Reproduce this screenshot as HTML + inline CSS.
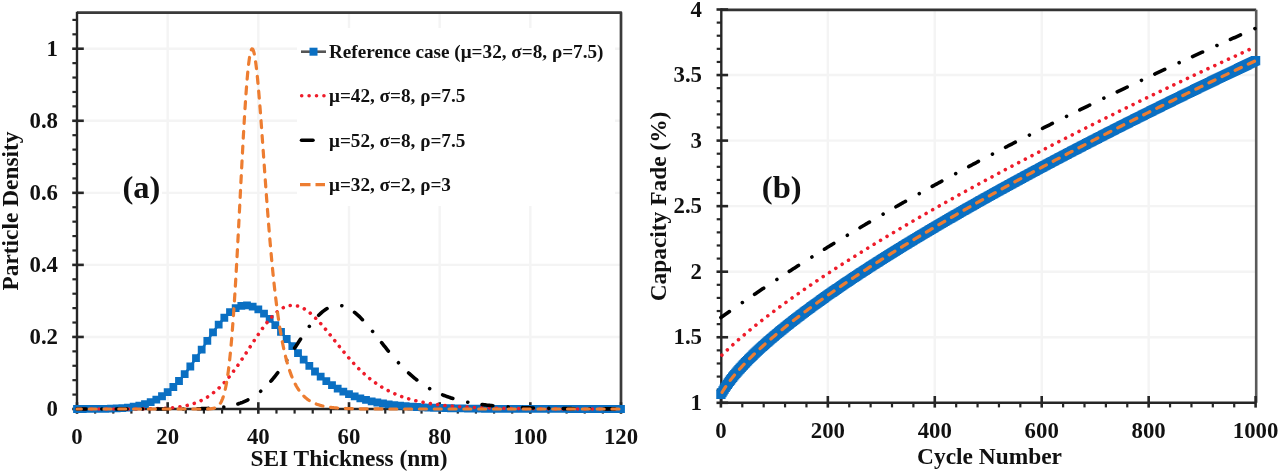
<!DOCTYPE html>
<html><head><meta charset="utf-8"><style>
html,body{margin:0;padding:0;background:#fff;}
body{width:1280px;height:472px;overflow:hidden;}
svg{display:block;filter:blur(0.45px);}
text{fill:#111;}
</style></head><body>
<svg width="1280" height="472" viewBox="0 0 1280 472">
<line x1="77.0" y1="336.95" x2="621.0" y2="336.95" stroke="#f4f4f4" stroke-width="2.4"/>
<line x1="77.0" y1="264.89" x2="621.0" y2="264.89" stroke="#f4f4f4" stroke-width="2.4"/>
<line x1="77.0" y1="192.84" x2="621.0" y2="192.84" stroke="#f4f4f4" stroke-width="2.4"/>
<line x1="77.0" y1="120.78" x2="621.0" y2="120.78" stroke="#f4f4f4" stroke-width="2.4"/>
<line x1="77.0" y1="48.73" x2="621.0" y2="48.73" stroke="#f4f4f4" stroke-width="2.4"/>
<line x1="167.67" y1="12.7" x2="167.67" y2="409.0" stroke="#f4f4f4" stroke-width="2.4"/>
<line x1="258.33" y1="12.7" x2="258.33" y2="409.0" stroke="#f4f4f4" stroke-width="2.4"/>
<line x1="349.0" y1="12.7" x2="349.0" y2="409.0" stroke="#f4f4f4" stroke-width="2.4"/>
<line x1="439.67" y1="12.7" x2="439.67" y2="409.0" stroke="#f4f4f4" stroke-width="2.4"/>
<line x1="530.33" y1="12.7" x2="530.33" y2="409.0" stroke="#f4f4f4" stroke-width="2.4"/>
<rect x="297" y="28" width="318" height="178" fill="#fff"/>
<rect x="120" y="168" width="42" height="40" fill="#fff"/>
<path d="M77.0 12.7H621.0V409.0" fill="none" stroke="#3a3a3a" stroke-width="2.7" stroke-linejoin="round"/>
<line x1="77.0" y1="11.7" x2="77.0" y2="410.0" stroke="#262626" stroke-width="2.4"/>
<line x1="76.0" y1="409.0" x2="621.0" y2="409.0" stroke="#262626" stroke-width="2.4"/>
<line x1="72.2" y1="409.0" x2="83.8" y2="409.0" stroke="#262626" stroke-width="2.6"/>
<line x1="72.4" y1="394.59" x2="77.0" y2="394.59" stroke="#262626" stroke-width="2.2"/>
<line x1="72.4" y1="380.18" x2="77.0" y2="380.18" stroke="#262626" stroke-width="2.2"/>
<line x1="72.4" y1="365.77" x2="77.0" y2="365.77" stroke="#262626" stroke-width="2.2"/>
<line x1="72.4" y1="351.36" x2="77.0" y2="351.36" stroke="#262626" stroke-width="2.2"/>
<line x1="72.2" y1="336.95" x2="83.8" y2="336.95" stroke="#262626" stroke-width="2.6"/>
<line x1="72.4" y1="322.53" x2="77.0" y2="322.53" stroke="#262626" stroke-width="2.2"/>
<line x1="72.4" y1="308.12" x2="77.0" y2="308.12" stroke="#262626" stroke-width="2.2"/>
<line x1="72.4" y1="293.71" x2="77.0" y2="293.71" stroke="#262626" stroke-width="2.2"/>
<line x1="72.4" y1="279.3" x2="77.0" y2="279.3" stroke="#262626" stroke-width="2.2"/>
<line x1="72.2" y1="264.89" x2="83.8" y2="264.89" stroke="#262626" stroke-width="2.6"/>
<line x1="72.4" y1="250.48" x2="77.0" y2="250.48" stroke="#262626" stroke-width="2.2"/>
<line x1="72.4" y1="236.07" x2="77.0" y2="236.07" stroke="#262626" stroke-width="2.2"/>
<line x1="72.4" y1="221.66" x2="77.0" y2="221.66" stroke="#262626" stroke-width="2.2"/>
<line x1="72.4" y1="207.25" x2="77.0" y2="207.25" stroke="#262626" stroke-width="2.2"/>
<line x1="72.2" y1="192.84" x2="83.8" y2="192.84" stroke="#262626" stroke-width="2.6"/>
<line x1="72.4" y1="178.43" x2="77.0" y2="178.43" stroke="#262626" stroke-width="2.2"/>
<line x1="72.4" y1="164.01" x2="77.0" y2="164.01" stroke="#262626" stroke-width="2.2"/>
<line x1="72.4" y1="149.6" x2="77.0" y2="149.6" stroke="#262626" stroke-width="2.2"/>
<line x1="72.4" y1="135.19" x2="77.0" y2="135.19" stroke="#262626" stroke-width="2.2"/>
<line x1="72.2" y1="120.78" x2="83.8" y2="120.78" stroke="#262626" stroke-width="2.6"/>
<line x1="72.4" y1="106.37" x2="77.0" y2="106.37" stroke="#262626" stroke-width="2.2"/>
<line x1="72.4" y1="91.96" x2="77.0" y2="91.96" stroke="#262626" stroke-width="2.2"/>
<line x1="72.4" y1="77.55" x2="77.0" y2="77.55" stroke="#262626" stroke-width="2.2"/>
<line x1="72.4" y1="63.14" x2="77.0" y2="63.14" stroke="#262626" stroke-width="2.2"/>
<line x1="72.2" y1="48.73" x2="83.8" y2="48.73" stroke="#262626" stroke-width="2.6"/>
<line x1="72.4" y1="34.32" x2="77.0" y2="34.32" stroke="#262626" stroke-width="2.2"/>
<line x1="72.4" y1="19.91" x2="77.0" y2="19.91" stroke="#262626" stroke-width="2.2"/>
<line x1="77.0" y1="402.2" x2="77.0" y2="413.8" stroke="#262626" stroke-width="2.6"/>
<line x1="95.13" y1="409.0" x2="95.13" y2="413.6" stroke="#262626" stroke-width="2.2"/>
<line x1="113.27" y1="409.0" x2="113.27" y2="413.6" stroke="#262626" stroke-width="2.2"/>
<line x1="131.4" y1="409.0" x2="131.4" y2="413.6" stroke="#262626" stroke-width="2.2"/>
<line x1="149.53" y1="409.0" x2="149.53" y2="413.6" stroke="#262626" stroke-width="2.2"/>
<line x1="167.67" y1="402.2" x2="167.67" y2="413.8" stroke="#262626" stroke-width="2.6"/>
<line x1="185.8" y1="409.0" x2="185.8" y2="413.6" stroke="#262626" stroke-width="2.2"/>
<line x1="203.93" y1="409.0" x2="203.93" y2="413.6" stroke="#262626" stroke-width="2.2"/>
<line x1="222.07" y1="409.0" x2="222.07" y2="413.6" stroke="#262626" stroke-width="2.2"/>
<line x1="240.2" y1="409.0" x2="240.2" y2="413.6" stroke="#262626" stroke-width="2.2"/>
<line x1="258.33" y1="402.2" x2="258.33" y2="413.8" stroke="#262626" stroke-width="2.6"/>
<line x1="276.47" y1="409.0" x2="276.47" y2="413.6" stroke="#262626" stroke-width="2.2"/>
<line x1="294.6" y1="409.0" x2="294.6" y2="413.6" stroke="#262626" stroke-width="2.2"/>
<line x1="312.73" y1="409.0" x2="312.73" y2="413.6" stroke="#262626" stroke-width="2.2"/>
<line x1="330.87" y1="409.0" x2="330.87" y2="413.6" stroke="#262626" stroke-width="2.2"/>
<line x1="349.0" y1="402.2" x2="349.0" y2="413.8" stroke="#262626" stroke-width="2.6"/>
<line x1="367.13" y1="409.0" x2="367.13" y2="413.6" stroke="#262626" stroke-width="2.2"/>
<line x1="385.27" y1="409.0" x2="385.27" y2="413.6" stroke="#262626" stroke-width="2.2"/>
<line x1="403.4" y1="409.0" x2="403.4" y2="413.6" stroke="#262626" stroke-width="2.2"/>
<line x1="421.53" y1="409.0" x2="421.53" y2="413.6" stroke="#262626" stroke-width="2.2"/>
<line x1="439.67" y1="402.2" x2="439.67" y2="413.8" stroke="#262626" stroke-width="2.6"/>
<line x1="457.8" y1="409.0" x2="457.8" y2="413.6" stroke="#262626" stroke-width="2.2"/>
<line x1="475.93" y1="409.0" x2="475.93" y2="413.6" stroke="#262626" stroke-width="2.2"/>
<line x1="494.07" y1="409.0" x2="494.07" y2="413.6" stroke="#262626" stroke-width="2.2"/>
<line x1="512.2" y1="409.0" x2="512.2" y2="413.6" stroke="#262626" stroke-width="2.2"/>
<line x1="530.33" y1="402.2" x2="530.33" y2="413.8" stroke="#262626" stroke-width="2.6"/>
<line x1="548.47" y1="409.0" x2="548.47" y2="413.6" stroke="#262626" stroke-width="2.2"/>
<line x1="566.6" y1="409.0" x2="566.6" y2="413.6" stroke="#262626" stroke-width="2.2"/>
<line x1="584.73" y1="409.0" x2="584.73" y2="413.6" stroke="#262626" stroke-width="2.2"/>
<line x1="602.87" y1="409.0" x2="602.87" y2="413.6" stroke="#262626" stroke-width="2.2"/>
<line x1="621.0" y1="402.2" x2="621.0" y2="413.8" stroke="#262626" stroke-width="2.6"/>
<text x="58" y="416.0" text-anchor="end" font-family="Liberation Serif" font-weight="bold" font-size="22.8">0</text>
<text x="58" y="343.95" text-anchor="end" font-family="Liberation Serif" font-weight="bold" font-size="22.8">0.2</text>
<text x="58" y="271.89" text-anchor="end" font-family="Liberation Serif" font-weight="bold" font-size="22.8">0.4</text>
<text x="58" y="199.84" text-anchor="end" font-family="Liberation Serif" font-weight="bold" font-size="22.8">0.6</text>
<text x="58" y="127.78" text-anchor="end" font-family="Liberation Serif" font-weight="bold" font-size="22.8">0.8</text>
<text x="58" y="55.73" text-anchor="end" font-family="Liberation Serif" font-weight="bold" font-size="22.8">1</text>
<text x="77.0" y="443.5" text-anchor="middle" font-family="Liberation Serif" font-weight="bold" font-size="22.8">0</text>
<text x="167.67" y="443.5" text-anchor="middle" font-family="Liberation Serif" font-weight="bold" font-size="22.8">20</text>
<text x="258.33" y="443.5" text-anchor="middle" font-family="Liberation Serif" font-weight="bold" font-size="22.8">40</text>
<text x="349.0" y="443.5" text-anchor="middle" font-family="Liberation Serif" font-weight="bold" font-size="22.8">60</text>
<text x="439.67" y="443.5" text-anchor="middle" font-family="Liberation Serif" font-weight="bold" font-size="22.8">80</text>
<text x="530.33" y="443.5" text-anchor="middle" font-family="Liberation Serif" font-weight="bold" font-size="22.8">100</text>
<text x="621.0" y="443.5" text-anchor="middle" font-family="Liberation Serif" font-weight="bold" font-size="22.8">120</text>
<text x="349" y="465.7" text-anchor="middle" font-family="Liberation Serif" font-weight="bold" font-size="23.4">SEI Thickness (nm)</text>
<text transform="translate(17.8,211) rotate(-90)" x="0" y="0" text-anchor="middle" font-family="Liberation Serif" font-weight="bold" font-size="23.4">Particle Density</text>
<text x="141.5" y="198.4" text-anchor="middle" font-family="Liberation Serif" font-weight="bold" font-size="32.5">(a)</text>
<polyline points="77.0,408.99 82.67,408.98 88.33,408.96 94.0,408.92 99.67,408.87 105.33,408.78 111.0,408.63 116.67,408.4 122.33,408.05 128.0,407.53 133.67,406.77 139.33,405.7 145.0,404.21 150.67,402.22 156.33,399.59 162.0,396.24 167.67,392.06 173.33,386.99 179.0,381.0 184.67,374.13 190.33,366.48 196.0,358.21 201.67,349.57 207.33,340.86 213.0,332.41 218.67,324.59 224.33,317.75 230.0,312.2 235.67,308.19 241.33,305.88 247.0,305.34 252.67,306.53 258.33,309.33 264.0,313.54 269.67,318.9 275.33,325.12 281.0,331.91 286.67,338.99 292.33,346.11 298.0,353.06 303.67,359.68 309.33,365.85 315.0,371.5 320.67,376.6 326.33,381.13 332.0,385.12 337.67,388.61 343.33,391.62 349.0,394.22 354.67,396.45 360.33,398.35 366.0,399.97 371.67,401.35 377.33,402.52 383.0,403.51 388.67,404.35 394.33,405.06 400.0,405.67 405.67,406.18 411.33,406.61 417.0,406.98 422.67,407.29 428.33,407.55 434.0,407.77 439.67,407.96 445.33,408.12 451.0,408.25 456.67,408.37 462.33,408.47 468.0,408.55 473.67,408.62 479.33,408.68 485.0,408.73 490.67,408.77 496.33,408.8 502.0,408.83 507.67,408.86 513.33,408.88 519.0,408.9 524.67,408.91 530.33,408.93 536.0,408.94 541.67,408.95 547.33,408.96 553.0,408.96 558.67,408.97 564.33,408.97 570.0,408.98 575.67,408.98 581.33,408.98 587.0,408.99 592.67,408.99 598.33,408.99 604.0,408.99 609.67,408.99 615.33,408.99 621.0,408.99" fill="none" stroke="#0a6fc2" stroke-width="2.5"/>
<path d="M73.1 405.09h7.8v7.8h-7.8zM78.77 405.08h7.8v7.8h-7.8zM84.43 405.06h7.8v7.8h-7.8zM90.1 405.02h7.8v7.8h-7.8zM95.77 404.97h7.8v7.8h-7.8zM101.43 404.88h7.8v7.8h-7.8zM107.1 404.73h7.8v7.8h-7.8zM112.77 404.5h7.8v7.8h-7.8zM118.43 404.15h7.8v7.8h-7.8zM124.1 403.63h7.8v7.8h-7.8zM129.77 402.87h7.8v7.8h-7.8zM135.43 401.8h7.8v7.8h-7.8zM141.1 400.31h7.8v7.8h-7.8zM146.77 398.32h7.8v7.8h-7.8zM152.43 395.69h7.8v7.8h-7.8zM158.1 392.34h7.8v7.8h-7.8zM163.77 388.16h7.8v7.8h-7.8zM169.43 383.09h7.8v7.8h-7.8zM175.1 377.1h7.8v7.8h-7.8zM180.77 370.23h7.8v7.8h-7.8zM186.43 362.58h7.8v7.8h-7.8zM192.1 354.31h7.8v7.8h-7.8zM197.77 345.67h7.8v7.8h-7.8zM203.43 336.96h7.8v7.8h-7.8zM209.1 328.51h7.8v7.8h-7.8zM214.77 320.69h7.8v7.8h-7.8zM220.43 313.85h7.8v7.8h-7.8zM226.1 308.3h7.8v7.8h-7.8zM231.77 304.29h7.8v7.8h-7.8zM237.43 301.98h7.8v7.8h-7.8zM243.1 301.44h7.8v7.8h-7.8zM248.77 302.63h7.8v7.8h-7.8zM254.43 305.43h7.8v7.8h-7.8zM260.1 309.64h7.8v7.8h-7.8zM265.77 315.0h7.8v7.8h-7.8zM271.43 321.22h7.8v7.8h-7.8zM277.1 328.01h7.8v7.8h-7.8zM282.77 335.09h7.8v7.8h-7.8zM288.43 342.21h7.8v7.8h-7.8zM294.1 349.16h7.8v7.8h-7.8zM299.77 355.78h7.8v7.8h-7.8zM305.43 361.95h7.8v7.8h-7.8zM311.1 367.6h7.8v7.8h-7.8zM316.77 372.7h7.8v7.8h-7.8zM322.43 377.23h7.8v7.8h-7.8zM328.1 381.22h7.8v7.8h-7.8zM333.77 384.71h7.8v7.8h-7.8zM339.43 387.72h7.8v7.8h-7.8zM345.1 390.32h7.8v7.8h-7.8zM350.77 392.55h7.8v7.8h-7.8zM356.43 394.45h7.8v7.8h-7.8zM362.1 396.07h7.8v7.8h-7.8zM367.77 397.45h7.8v7.8h-7.8zM373.43 398.62h7.8v7.8h-7.8zM379.1 399.61h7.8v7.8h-7.8zM384.77 400.45h7.8v7.8h-7.8zM390.43 401.16h7.8v7.8h-7.8zM396.1 401.77h7.8v7.8h-7.8zM401.77 402.28h7.8v7.8h-7.8zM407.43 402.71h7.8v7.8h-7.8zM413.1 403.08h7.8v7.8h-7.8zM418.77 403.39h7.8v7.8h-7.8zM424.43 403.65h7.8v7.8h-7.8zM430.1 403.87h7.8v7.8h-7.8zM435.77 404.06h7.8v7.8h-7.8zM441.43 404.22h7.8v7.8h-7.8zM447.1 404.35h7.8v7.8h-7.8zM452.77 404.47h7.8v7.8h-7.8zM458.43 404.57h7.8v7.8h-7.8zM464.1 404.65h7.8v7.8h-7.8zM469.77 404.72h7.8v7.8h-7.8zM475.43 404.78h7.8v7.8h-7.8zM481.1 404.83h7.8v7.8h-7.8zM486.77 404.87h7.8v7.8h-7.8zM492.43 404.9h7.8v7.8h-7.8zM498.1 404.93h7.8v7.8h-7.8zM503.77 404.96h7.8v7.8h-7.8zM509.43 404.98h7.8v7.8h-7.8zM515.1 405.0h7.8v7.8h-7.8zM520.77 405.01h7.8v7.8h-7.8zM526.43 405.03h7.8v7.8h-7.8zM532.1 405.04h7.8v7.8h-7.8zM537.77 405.05h7.8v7.8h-7.8zM543.43 405.06h7.8v7.8h-7.8zM549.1 405.06h7.8v7.8h-7.8zM554.77 405.07h7.8v7.8h-7.8zM560.43 405.07h7.8v7.8h-7.8zM566.1 405.08h7.8v7.8h-7.8zM571.77 405.08h7.8v7.8h-7.8zM577.43 405.08h7.8v7.8h-7.8zM583.1 405.09h7.8v7.8h-7.8zM588.77 405.09h7.8v7.8h-7.8zM594.43 405.09h7.8v7.8h-7.8zM600.1 405.09h7.8v7.8h-7.8zM605.77 405.09h7.8v7.8h-7.8zM611.43 405.09h7.8v7.8h-7.8zM617.1 405.09h7.8v7.8h-7.8z" fill="#0a6fc2"/>
<polyline points="77.0,409.0 78.13,409.0 79.27,409.0 80.4,409.0 81.53,409.0 82.67,409.0 83.8,409.0 84.93,409.0 86.07,409.0 87.2,409.0 88.33,409.0 89.47,409.0 90.6,409.0 91.73,409.0 92.87,409.0 94.0,409.0 95.13,409.0 96.27,409.0 97.4,409.0 98.53,409.0 99.67,409.0 100.8,409.0 101.93,409.0 103.07,409.0 104.2,409.0 105.33,409.0 106.47,409.0 107.6,409.0 108.73,409.0 109.87,409.0 111.0,409.0 112.13,409.0 113.27,409.0 114.4,409.0 115.53,408.99 116.67,408.99 117.8,408.99 118.93,408.99 120.07,408.99 121.2,408.99 122.33,408.99 123.47,408.99 124.6,408.99 125.73,408.98 126.87,408.98 128.0,408.98 129.13,408.98 130.27,408.97 131.4,408.97 132.53,408.97 133.67,408.96 134.8,408.96 135.93,408.95 137.07,408.95 138.2,408.94 139.33,408.93 140.47,408.93 141.6,408.92 142.73,408.91 143.87,408.9 145.0,408.88 146.13,408.87 147.27,408.86 148.4,408.84 149.53,408.82 150.67,408.8 151.8,408.78 152.93,408.76 154.07,408.73 155.2,408.7 156.33,408.67 157.47,408.64 158.6,408.6 159.73,408.56 160.87,408.51 162.0,408.46 163.13,408.41 164.27,408.35 165.4,408.29 166.53,408.22 167.67,408.15 168.8,408.07 169.93,407.98 171.07,407.88 172.2,407.78 173.33,407.67 174.47,407.55 175.6,407.42 176.73,407.29 177.87,407.14 179.0,406.98 180.13,406.81 181.27,406.62 182.4,406.42 183.53,406.21 184.67,405.99 185.8,405.75 186.93,405.49 188.07,405.22 189.2,404.92 190.33,404.61 191.47,404.28 192.6,403.93 193.73,403.56 194.87,403.17 196.0,402.75 197.13,402.31 198.27,401.84 199.4,401.35 200.53,400.83 201.67,400.29 202.8,399.71 203.93,399.11 205.07,398.48 206.2,397.81 207.33,397.12 208.47,396.39 209.6,395.63 210.73,394.83 211.87,394.0 213.0,393.14 214.13,392.24 215.27,391.31 216.4,390.34 217.53,389.33 218.67,388.29 219.8,387.21 220.93,386.09 222.07,384.94 223.2,383.75 224.33,382.52 225.47,381.26 226.6,379.96 227.73,378.62 228.87,377.26 230.0,375.85 231.13,374.42 232.27,372.95 233.4,371.46 234.53,369.93 235.67,368.38 236.8,366.8 237.93,365.19 239.07,363.56 240.2,361.91 241.33,360.24 242.47,358.55 243.6,356.85 244.73,355.13 245.87,353.4 247.0,351.66 248.13,349.92 249.27,348.17 250.4,346.43 251.53,344.68 252.67,342.94 253.8,341.2 254.93,339.48 256.07,337.77 257.2,336.07 258.33,334.39 259.47,332.74 260.6,331.11 261.73,329.5 262.87,327.93 264.0,326.39 265.13,324.89 266.27,323.42 267.4,322.0 268.53,320.62 269.67,319.28 270.8,318.0 271.93,316.77 273.07,315.59 274.2,314.46 275.33,313.4 276.47,312.39 277.6,311.45 278.73,310.57 279.87,309.75 281.0,309.0 282.13,308.32 283.27,307.7 284.4,307.16 285.53,306.68 286.67,306.27 287.8,305.94 288.93,305.67 290.07,305.48 291.2,305.36 292.33,305.31 293.47,305.33 294.6,305.41 295.73,305.57 296.87,305.8 298.0,306.09 299.13,306.45 300.27,306.87 301.4,307.36 302.53,307.91 303.67,308.52 304.8,309.19 305.93,309.92 307.07,310.7 308.2,311.53 309.33,312.41 310.47,313.35 311.6,314.33 312.73,315.35 313.87,316.42 315.0,317.52 316.13,318.66 317.27,319.84 318.4,321.05 319.53,322.29 320.67,323.56 321.8,324.86 322.93,326.18 324.07,327.51 325.2,328.87 326.33,330.24 327.47,331.63 328.6,333.03 329.73,334.44 330.87,335.86 332.0,337.28 333.13,338.71 334.27,340.14 335.4,341.56 336.53,342.99 337.67,344.41 338.8,345.83 339.93,347.24 341.07,348.64 342.2,350.04 343.33,351.42 344.47,352.79 345.6,354.15 346.73,355.49 347.87,356.82 349.0,358.13 350.13,359.42 351.27,360.7 352.4,361.96 353.53,363.2 354.67,364.42 355.8,365.61 356.93,366.79 358.07,367.95 359.2,369.08 360.33,370.19 361.47,371.29 362.6,372.35 363.73,373.4 364.87,374.42 366.0,375.42 367.13,376.4 368.27,377.36 369.4,378.29 370.53,379.2 371.67,380.09 372.8,380.96 373.93,381.8 375.07,382.63 376.2,383.43 377.33,384.21 378.47,384.97 379.6,385.71 380.73,386.43 381.87,387.13 383.0,387.81 384.13,388.48 385.27,389.12 386.4,389.74 387.53,390.35 388.67,390.94 389.8,391.51 390.93,392.07 392.07,392.6 393.2,393.13 394.33,393.63 395.47,394.12 396.6,394.6 397.73,395.06 398.87,395.51 400.0,395.94 401.13,396.37 402.27,396.77 403.4,397.17 404.53,397.55 405.67,397.92 406.8,398.28 407.93,398.63 409.07,398.96 410.2,399.29 411.33,399.6 412.47,399.91 413.6,400.21 414.73,400.49 415.87,400.77 417.0,401.04 418.13,401.3 419.27,401.55 420.4,401.79 421.53,402.03 422.67,402.25 423.8,402.47 424.93,402.69 426.07,402.89 427.2,403.09 428.33,403.29 429.47,403.47 430.6,403.65 431.73,403.83 432.87,404.0 434.0,404.16 435.13,404.32 436.27,404.47 437.4,404.62 438.53,404.76 439.67,404.9 440.8,405.04 441.93,405.17 443.07,405.29 444.2,405.41 445.33,405.53 446.47,405.64 447.6,405.75 448.73,405.86 449.87,405.96 451.0,406.06 452.13,406.16 453.27,406.25 454.4,406.34 455.53,406.43 456.67,406.51 457.8,406.59 458.93,406.67 460.07,406.75 461.2,406.82 462.33,406.89 463.47,406.96 464.6,407.03 465.73,407.09 466.87,407.16 468.0,407.22 469.13,407.27 470.27,407.33 471.4,407.39 472.53,407.44 473.67,407.49 474.8,407.54 475.93,407.59 477.07,407.63 478.2,407.68 479.33,407.72 480.47,407.76 481.6,407.8 482.73,407.84 483.87,407.88 485.0,407.92 486.13,407.95 487.27,407.99 488.4,408.02 489.53,408.05 490.67,408.08 491.8,408.11 492.93,408.14 494.07,408.17 495.2,408.2 496.33,408.22 497.47,408.25 498.6,408.27 499.73,408.3 500.87,408.32 502.0,408.34 503.13,408.36 504.27,408.39 505.4,408.41 506.53,408.42 507.67,408.44 508.8,408.46 509.93,408.48 511.07,408.5 512.2,408.51 513.33,408.53 514.47,408.54 515.6,408.56 516.73,408.57 517.87,408.59 519.0,408.6 520.13,408.61 521.27,408.63 522.4,408.64 523.53,408.65 524.67,408.66 525.8,408.67 526.93,408.68 528.07,408.69 529.2,408.7 530.33,408.71 531.47,408.72 532.6,408.73 533.73,408.74 534.87,408.75 536.0,408.76 537.13,408.77 538.27,408.77 539.4,408.78 540.53,408.79 541.67,408.8 542.8,408.8 543.93,408.81 545.07,408.81 546.2,408.82 547.33,408.83 548.47,408.83 549.6,408.84 550.73,408.84 551.87,408.85 553.0,408.85 554.13,408.86 555.27,408.86 556.4,408.87 557.53,408.87 558.67,408.88 559.8,408.88 560.93,408.88 562.07,408.89 563.2,408.89 564.33,408.89 565.47,408.9 566.6,408.9 567.73,408.9 568.87,408.91 570.0,408.91 571.13,408.91 572.27,408.92 573.4,408.92 574.53,408.92 575.67,408.92 576.8,408.93 577.93,408.93 579.07,408.93 580.2,408.93 581.33,408.94 582.47,408.94 583.6,408.94 584.73,408.94 585.87,408.94 587.0,408.95 588.13,408.95 589.27,408.95 590.4,408.95 591.53,408.95 592.67,408.95 593.8,408.96 594.93,408.96 596.07,408.96 597.2,408.96 598.33,408.96 599.47,408.96 600.6,408.96 601.73,408.96 602.87,408.97 604.0,408.97 605.13,408.97 606.27,408.97 607.4,408.97 608.53,408.97 609.67,408.97 610.8,408.97 611.93,408.97 613.07,408.97 614.2,408.98 615.33,408.98 616.47,408.98 617.6,408.98 618.73,408.98 619.87,408.98 621.0,408.98" fill="none" stroke="#ee1c2a" stroke-width="3.6" stroke-dasharray="0.01 7.368" stroke-dashoffset="-7.135" stroke-linecap="round"/>
<polyline points="77.0,409.0 78.13,409.0 79.27,409.0 80.4,409.0 81.53,409.0 82.67,409.0 83.8,409.0 84.93,409.0 86.07,409.0 87.2,409.0 88.33,409.0 89.47,409.0 90.6,409.0 91.73,409.0 92.87,409.0 94.0,409.0 95.13,409.0 96.27,409.0 97.4,409.0 98.53,409.0 99.67,409.0 100.8,409.0 101.93,409.0 103.07,409.0 104.2,409.0 105.33,409.0 106.47,409.0 107.6,409.0 108.73,409.0 109.87,409.0 111.0,409.0 112.13,409.0 113.27,409.0 114.4,409.0 115.53,409.0 116.67,409.0 117.8,409.0 118.93,409.0 120.07,409.0 121.2,409.0 122.33,409.0 123.47,409.0 124.6,409.0 125.73,409.0 126.87,409.0 128.0,409.0 129.13,409.0 130.27,409.0 131.4,409.0 132.53,409.0 133.67,409.0 134.8,409.0 135.93,409.0 137.07,409.0 138.2,409.0 139.33,409.0 140.47,409.0 141.6,409.0 142.73,409.0 143.87,409.0 145.0,409.0 146.13,409.0 147.27,409.0 148.4,409.0 149.53,409.0 150.67,409.0 151.8,409.0 152.93,409.0 154.07,409.0 155.2,409.0 156.33,409.0 157.47,409.0 158.6,409.0 159.73,409.0 160.87,408.99 162.0,408.99 163.13,408.99 164.27,408.99 165.4,408.99 166.53,408.99 167.67,408.99 168.8,408.99 169.93,408.99 171.07,408.98 172.2,408.98 173.33,408.98 174.47,408.98 175.6,408.97 176.73,408.97 177.87,408.97 179.0,408.96 180.13,408.96 181.27,408.95 182.4,408.95 183.53,408.94 184.67,408.93 185.8,408.93 186.93,408.92 188.07,408.91 189.2,408.9 190.33,408.88 191.47,408.87 192.6,408.86 193.73,408.84 194.87,408.82 196.0,408.8 197.13,408.78 198.27,408.76 199.4,408.73 200.53,408.7 201.67,408.67 202.8,408.64 203.93,408.6 205.07,408.56 206.2,408.51 207.33,408.46 208.47,408.41 209.6,408.35 210.73,408.29 211.87,408.22 213.0,408.15 214.13,408.07 215.27,407.98 216.4,407.88 217.53,407.78 218.67,407.67 219.8,407.55 220.93,407.42 222.07,407.29 223.2,407.14 224.33,406.98 225.47,406.81 226.6,406.62 227.73,406.42 228.87,406.21 230.0,405.99 231.13,405.75 232.27,405.49 233.4,405.22 234.53,404.92 235.67,404.61 236.8,404.28 237.93,403.93 239.07,403.56 240.2,403.17 241.33,402.75 242.47,402.31 243.6,401.84 244.73,401.35 245.87,400.83 247.0,400.29 248.13,399.71 249.27,399.11 250.4,398.48 251.53,397.81 252.67,397.12 253.8,396.39 254.93,395.63 256.07,394.83 257.2,394.0 258.33,393.14 259.47,392.24 260.6,391.31 261.73,390.34 262.87,389.33 264.0,388.29 265.13,387.21 266.27,386.09 267.4,384.94 268.53,383.75 269.67,382.52 270.8,381.26 271.93,379.96 273.07,378.62 274.2,377.26 275.33,375.85 276.47,374.42 277.6,372.95 278.73,371.46 279.87,369.93 281.0,368.38 282.13,366.8 283.27,365.19 284.4,363.56 285.53,361.91 286.67,360.24 287.8,358.55 288.93,356.85 290.07,355.13 291.2,353.4 292.33,351.66 293.47,349.92 294.6,348.17 295.73,346.43 296.87,344.68 298.0,342.94 299.13,341.2 300.27,339.48 301.4,337.77 302.53,336.07 303.67,334.39 304.8,332.74 305.93,331.11 307.07,329.5 308.2,327.93 309.33,326.39 310.47,324.89 311.6,323.42 312.73,322.0 313.87,320.62 315.0,319.28 316.13,318.0 317.27,316.77 318.4,315.59 319.53,314.46 320.67,313.4 321.8,312.39 322.93,311.45 324.07,310.57 325.2,309.75 326.33,309.0 327.47,308.32 328.6,307.7 329.73,307.16 330.87,306.68 332.0,306.27 333.13,305.94 334.27,305.67 335.4,305.48 336.53,305.36 337.67,305.31 338.8,305.33 339.93,305.41 341.07,305.57 342.2,305.8 343.33,306.09 344.47,306.45 345.6,306.87 346.73,307.36 347.87,307.91 349.0,308.52 350.13,309.19 351.27,309.92 352.4,310.7 353.53,311.53 354.67,312.41 355.8,313.35 356.93,314.33 358.07,315.35 359.2,316.42 360.33,317.52 361.47,318.66 362.6,319.84 363.73,321.05 364.87,322.29 366.0,323.56 367.13,324.86 368.27,326.18 369.4,327.51 370.53,328.87 371.67,330.24 372.8,331.63 373.93,333.03 375.07,334.44 376.2,335.86 377.33,337.28 378.47,338.71 379.6,340.14 380.73,341.56 381.87,342.99 383.0,344.41 384.13,345.83 385.27,347.24 386.4,348.64 387.53,350.04 388.67,351.42 389.8,352.79 390.93,354.15 392.07,355.49 393.2,356.82 394.33,358.13 395.47,359.42 396.6,360.7 397.73,361.96 398.87,363.2 400.0,364.42 401.13,365.61 402.27,366.79 403.4,367.95 404.53,369.08 405.67,370.19 406.8,371.29 407.93,372.35 409.07,373.4 410.2,374.42 411.33,375.42 412.47,376.4 413.6,377.36 414.73,378.29 415.87,379.2 417.0,380.09 418.13,380.96 419.27,381.8 420.4,382.63 421.53,383.43 422.67,384.21 423.8,384.97 424.93,385.71 426.07,386.43 427.2,387.13 428.33,387.81 429.47,388.48 430.6,389.12 431.73,389.74 432.87,390.35 434.0,390.94 435.13,391.51 436.27,392.07 437.4,392.6 438.53,393.13 439.67,393.63 440.8,394.12 441.93,394.6 443.07,395.06 444.2,395.51 445.33,395.94 446.47,396.37 447.6,396.77 448.73,397.17 449.87,397.55 451.0,397.92 452.13,398.28 453.27,398.63 454.4,398.96 455.53,399.29 456.67,399.6 457.8,399.91 458.93,400.21 460.07,400.49 461.2,400.77 462.33,401.04 463.47,401.3 464.6,401.55 465.73,401.79 466.87,402.03 468.0,402.25 469.13,402.47 470.27,402.69 471.4,402.89 472.53,403.09 473.67,403.29 474.8,403.47 475.93,403.65 477.07,403.83 478.2,404.0 479.33,404.16 480.47,404.32 481.6,404.47 482.73,404.62 483.87,404.76 485.0,404.9 486.13,405.04 487.27,405.17 488.4,405.29 489.53,405.41 490.67,405.53 491.8,405.64 492.93,405.75 494.07,405.86 495.2,405.96 496.33,406.06 497.47,406.16 498.6,406.25 499.73,406.34 500.87,406.43 502.0,406.51 503.13,406.59 504.27,406.67 505.4,406.75 506.53,406.82 507.67,406.89 508.8,406.96 509.93,407.03 511.07,407.09 512.2,407.16 513.33,407.22 514.47,407.27 515.6,407.33 516.73,407.39 517.87,407.44 519.0,407.49 520.13,407.54 521.27,407.59 522.4,407.63 523.53,407.68 524.67,407.72 525.8,407.76 526.93,407.8 528.07,407.84 529.2,407.88 530.33,407.92 531.47,407.95 532.6,407.99 533.73,408.02 534.87,408.05 536.0,408.08 537.13,408.11 538.27,408.14 539.4,408.17 540.53,408.2 541.67,408.22 542.8,408.25 543.93,408.27 545.07,408.3 546.2,408.32 547.33,408.34 548.47,408.36 549.6,408.39 550.73,408.41 551.87,408.42 553.0,408.44 554.13,408.46 555.27,408.48 556.4,408.5 557.53,408.51 558.67,408.53 559.8,408.54 560.93,408.56 562.07,408.57 563.2,408.59 564.33,408.6 565.47,408.61 566.6,408.63 567.73,408.64 568.87,408.65 570.0,408.66 571.13,408.67 572.27,408.68 573.4,408.69 574.53,408.7 575.67,408.71 576.8,408.72 577.93,408.73 579.07,408.74 580.2,408.75 581.33,408.76 582.47,408.77 583.6,408.77 584.73,408.78 585.87,408.79 587.0,408.8 588.13,408.8 589.27,408.81 590.4,408.81 591.53,408.82 592.67,408.83 593.8,408.83 594.93,408.84 596.07,408.84 597.2,408.85 598.33,408.85 599.47,408.86 600.6,408.86 601.73,408.87 602.87,408.87 604.0,408.88 605.13,408.88 606.27,408.88 607.4,408.89 608.53,408.89 609.67,408.89 610.8,408.9 611.93,408.9 613.07,408.9 614.2,408.91 615.33,408.91 616.47,408.91 617.6,408.92 618.73,408.92 619.87,408.92 621.0,408.92" fill="none" stroke="#000" stroke-width="3.6" stroke-dasharray="10.8 15.45 0.01 14.43" stroke-dashoffset="1.44" stroke-linecap="round"/>
<polyline points="77.0,409.0 77.45,409.0 77.91,409.0 78.36,409.0 78.81,409.0 79.27,409.0 79.72,409.0 80.17,409.0 80.63,409.0 81.08,409.0 81.53,409.0 81.99,409.0 82.44,409.0 82.89,409.0 83.35,409.0 83.8,409.0 84.25,409.0 84.71,409.0 85.16,409.0 85.61,409.0 86.07,409.0 86.52,409.0 86.97,409.0 87.43,409.0 87.88,409.0 88.33,409.0 88.79,409.0 89.24,409.0 89.69,409.0 90.15,409.0 90.6,409.0 91.05,409.0 91.51,409.0 91.96,409.0 92.41,409.0 92.87,409.0 93.32,409.0 93.77,409.0 94.23,409.0 94.68,409.0 95.13,409.0 95.59,409.0 96.04,409.0 96.49,409.0 96.95,409.0 97.4,409.0 97.85,409.0 98.31,409.0 98.76,409.0 99.21,409.0 99.67,409.0 100.12,409.0 100.57,409.0 101.03,409.0 101.48,409.0 101.93,409.0 102.39,409.0 102.84,409.0 103.29,409.0 103.75,409.0 104.2,409.0 104.65,409.0 105.11,409.0 105.56,409.0 106.01,409.0 106.47,409.0 106.92,409.0 107.37,409.0 107.83,409.0 108.28,409.0 108.73,409.0 109.19,409.0 109.64,409.0 110.09,409.0 110.55,409.0 111.0,409.0 111.45,409.0 111.91,409.0 112.36,409.0 112.81,409.0 113.27,409.0 113.72,409.0 114.17,409.0 114.63,409.0 115.08,409.0 115.53,409.0 115.99,409.0 116.44,409.0 116.89,409.0 117.35,409.0 117.8,409.0 118.25,409.0 118.71,409.0 119.16,409.0 119.61,409.0 120.07,409.0 120.52,409.0 120.97,409.0 121.43,409.0 121.88,409.0 122.33,409.0 122.79,409.0 123.24,409.0 123.69,409.0 124.15,409.0 124.6,409.0 125.05,409.0 125.51,409.0 125.96,409.0 126.41,409.0 126.87,409.0 127.32,409.0 127.77,409.0 128.23,409.0 128.68,409.0 129.13,409.0 129.59,409.0 130.04,409.0 130.49,409.0 130.95,409.0 131.4,409.0 131.85,409.0 132.31,409.0 132.76,409.0 133.21,409.0 133.67,409.0 134.12,409.0 134.57,409.0 135.03,409.0 135.48,409.0 135.93,409.0 136.39,409.0 136.84,409.0 137.29,409.0 137.75,409.0 138.2,409.0 138.65,409.0 139.11,409.0 139.56,409.0 140.01,409.0 140.47,409.0 140.92,409.0 141.37,409.0 141.83,409.0 142.28,409.0 142.73,409.0 143.19,409.0 143.64,409.0 144.09,409.0 144.55,409.0 145.0,409.0 145.45,409.0 145.91,409.0 146.36,409.0 146.81,409.0 147.27,409.0 147.72,409.0 148.17,409.0 148.63,409.0 149.08,409.0 149.53,409.0 149.99,409.0 150.44,409.0 150.89,409.0 151.35,409.0 151.8,409.0 152.25,409.0 152.71,409.0 153.16,409.0 153.61,409.0 154.07,409.0 154.52,409.0 154.97,409.0 155.43,409.0 155.88,409.0 156.33,409.0 156.79,409.0 157.24,409.0 157.69,409.0 158.15,409.0 158.6,409.0 159.05,409.0 159.51,409.0 159.96,409.0 160.41,409.0 160.87,409.0 161.32,409.0 161.77,409.0 162.23,409.0 162.68,409.0 163.13,409.0 163.59,409.0 164.04,409.0 164.49,409.0 164.95,409.0 165.4,409.0 165.85,409.0 166.31,409.0 166.76,409.0 167.21,409.0 167.67,409.0 168.12,409.0 168.57,409.0 169.03,409.0 169.48,409.0 169.93,409.0 170.39,409.0 170.84,409.0 171.29,409.0 171.75,409.0 172.2,409.0 172.65,409.0 173.11,409.0 173.56,409.0 174.01,409.0 174.47,409.0 174.92,409.0 175.37,409.0 175.83,409.0 176.28,409.0 176.73,409.0 177.19,409.0 177.64,409.0 178.09,409.0 178.55,409.0 179.0,409.0 179.45,409.0 179.91,409.0 180.36,409.0 180.81,409.0 181.27,409.0 181.72,409.0 182.17,409.0 182.63,409.0 183.08,409.0 183.53,409.0 183.99,409.0 184.44,409.0 184.89,409.0 185.35,409.0 185.8,409.0 186.25,409.0 186.71,409.0 187.16,409.0 187.61,409.0 188.07,409.0 188.52,409.0 188.97,409.0 189.43,409.0 189.88,409.0 190.33,409.0 190.79,409.0 191.24,409.0 191.69,409.0 192.15,409.0 192.6,409.0 193.05,409.0 193.51,409.0 193.96,409.0 194.41,409.0 194.87,409.0 195.32,409.0 195.77,409.0 196.23,409.0 196.68,409.0 197.13,409.0 197.59,409.0 198.04,409.0 198.49,409.0 198.95,409.0 199.4,409.0 199.85,409.0 200.31,409.0 200.76,409.0 201.21,409.0 201.67,408.99 202.12,408.99 202.57,408.99 203.03,408.99 203.48,408.99 203.93,408.98 204.39,408.98 204.84,408.98 205.29,408.97 205.75,408.97 206.2,408.96 206.65,408.95 207.11,408.94 207.56,408.93 208.01,408.91 208.47,408.89 208.92,408.87 209.37,408.85 209.83,408.82 210.28,408.79 210.73,408.75 211.19,408.7 211.64,408.65 212.09,408.59 212.55,408.52 213.0,408.43 213.45,408.33 213.91,408.22 214.36,408.09 214.81,407.95 215.27,407.78 215.72,407.58 216.17,407.36 216.63,407.11 217.08,406.82 217.53,406.5 217.99,406.13 218.44,405.71 218.89,405.24 219.35,404.72 219.8,404.13 220.25,403.47 220.71,402.73 221.16,401.91 221.61,401.0 222.07,399.99 222.52,398.87 222.97,397.64 223.43,396.28 223.88,394.79 224.33,393.15 224.79,391.36 225.24,389.41 225.69,387.28 226.15,384.97 226.6,382.47 227.05,379.77 227.51,376.85 227.96,373.71 228.41,370.34 228.87,366.73 229.32,362.87 229.77,358.75 230.23,354.38 230.68,349.74 231.13,344.83 231.59,339.65 232.04,334.19 232.49,328.45 232.95,322.44 233.4,316.16 233.85,309.61 234.31,302.79 234.76,295.72 235.21,288.41 235.67,280.86 236.12,273.1 236.57,265.12 237.03,256.96 237.48,248.63 237.93,240.15 238.39,231.55 238.84,222.84 239.29,214.05 239.75,205.22 240.2,196.35 240.65,187.5 241.11,178.68 241.56,169.92 242.01,161.26 242.47,152.73 242.92,144.35 243.37,136.17 243.83,128.2 244.28,120.48 244.73,113.04 245.19,105.9 245.64,99.09 246.09,92.64 246.55,86.57 247.0,80.9 247.45,75.65 247.91,70.84 248.36,66.48 248.81,62.59 249.27,59.18 249.72,56.25 250.17,53.81 250.63,51.87 251.08,50.42 251.53,49.47 251.99,49.0 252.44,49.03 252.89,49.52 253.35,50.48 253.8,51.9 254.25,53.75 254.71,56.03 255.16,58.71 255.61,61.78 256.07,65.22 256.52,69.01 256.97,73.12 257.43,77.54 257.88,82.24 258.33,87.19 258.79,92.39 259.24,97.8 259.69,103.4 260.15,109.16 260.6,115.08 261.05,121.11 261.51,127.25 261.96,133.48 262.41,139.77 262.87,146.1 263.32,152.46 263.77,158.83 264.23,165.2 264.68,171.55 265.13,177.87 265.59,184.14 266.04,190.36 266.49,196.51 266.95,202.58 267.4,208.57 267.85,214.46 268.31,220.26 268.76,225.95 269.21,231.53 269.67,236.99 270.12,242.34 270.57,247.56 271.03,252.67 271.48,257.64 271.93,262.5 272.39,267.22 272.84,271.82 273.29,276.3 273.75,280.65 274.2,284.87 274.65,288.97 275.11,292.95 275.56,296.81 276.01,300.56 276.47,304.19 276.92,307.7 277.37,311.11 277.83,314.41 278.28,317.6 278.73,320.69 279.19,323.67 279.64,326.57 280.09,329.36 280.55,332.07 281.0,334.68 281.45,337.21 281.91,339.65 282.36,342.01 282.81,344.29 283.27,346.5 283.72,348.63 284.17,350.69 284.63,352.68 285.08,354.6 285.53,356.46 285.99,358.25 286.44,359.98 286.89,361.66 287.35,363.27 287.8,364.84 288.25,366.35 288.71,367.8 289.16,369.21 289.61,370.57 290.07,371.88 290.52,373.15 290.97,374.38 291.43,375.56 291.88,376.7 292.33,377.81 292.79,378.87 293.24,379.9 293.69,380.9 294.15,381.86 294.6,382.78 295.05,383.68 295.51,384.55 295.96,385.38 296.41,386.19 296.87,386.97 297.32,387.72 297.77,388.45 298.23,389.15 298.68,389.83 299.13,390.48 299.59,391.12 300.04,391.73 300.49,392.32 300.95,392.89 301.4,393.44 301.85,393.97 302.31,394.48 302.76,394.98 303.21,395.46 303.67,395.92 304.12,396.37 304.57,396.8 305.03,397.22 305.48,397.62 305.93,398.01 306.39,398.39 306.84,398.75 307.29,399.1 307.75,399.44 308.2,399.76 308.65,400.08 309.11,400.38 309.56,400.68 310.01,400.96 310.47,401.24 310.92,401.5 311.37,401.76 311.83,402.01 312.28,402.25 312.73,402.48 313.19,402.7 313.64,402.92 314.09,403.12 314.55,403.32 315.0,403.52 315.45,403.71 315.91,403.89 316.36,404.06 316.81,404.23 317.27,404.39 317.72,404.55 318.17,404.7 318.63,404.85 319.08,404.99 319.53,405.13 319.99,405.26 320.44,405.39 320.89,405.51 321.35,405.63 321.8,405.75 322.25,405.86 322.71,405.96 323.16,406.07 323.61,406.17 324.07,406.27 324.52,406.36 324.97,406.45 325.43,406.54 325.88,406.62 326.33,406.7 326.79,406.78 327.24,406.86 327.69,406.93 328.15,407.0 328.6,407.07 329.05,407.13 329.51,407.2 329.96,407.26 330.41,407.32 330.87,407.38 331.32,407.43 331.77,407.49 332.23,407.54 332.68,407.59 333.13,407.64 333.59,407.68 334.04,407.73 334.49,407.77 334.95,407.81 335.4,407.85 335.85,407.89 336.31,407.93 336.76,407.97 337.21,408.0 337.67,408.04 338.12,408.07 338.57,408.1 339.03,408.13 339.48,408.16 339.93,408.19 340.39,408.22 340.84,408.24 341.29,408.27 341.75,408.3 342.2,408.32 342.65,408.34 343.11,408.37 343.56,408.39 344.01,408.41 344.47,408.43 344.92,408.45 345.37,408.47 345.83,408.48 346.28,408.5 346.73,408.52 347.19,408.54 347.64,408.55 348.09,408.57 348.55,408.58 349.0,408.6 349.45,408.61 349.91,408.62 350.36,408.64 350.81,408.65 351.27,408.66 351.72,408.67 352.17,408.68 352.63,408.69 353.08,408.7 353.53,408.71 353.99,408.72 354.44,408.73 354.89,408.74 355.35,408.75 355.8,408.76 356.25,408.77 356.71,408.78 357.16,408.78 357.61,408.79 358.07,408.8 358.52,408.81 358.97,408.81 359.43,408.82 359.88,408.82 360.33,408.83 360.79,408.84 361.24,408.84 361.69,408.85 362.15,408.85 362.6,408.86 363.05,408.86 363.51,408.87 363.96,408.87 364.41,408.88 364.87,408.88 365.32,408.88 365.77,408.89 366.23,408.89 366.68,408.9 367.13,408.9 367.59,408.9 368.04,408.91 368.49,408.91 368.95,408.91 369.4,408.92 369.85,408.92 370.31,408.92 370.76,408.92 371.21,408.93 371.67,408.93 372.12,408.93 372.57,408.93 373.03,408.94 373.48,408.94 373.93,408.94 374.39,408.94 374.84,408.94 375.29,408.95 375.75,408.95 376.2,408.95 376.65,408.95 377.11,408.95 377.56,408.95 378.01,408.96 378.47,408.96 378.92,408.96 379.37,408.96 379.83,408.96 380.28,408.96 380.73,408.96 381.19,408.97 381.64,408.97 382.09,408.97 382.55,408.97 383.0,408.97 383.45,408.97 383.91,408.97 384.36,408.97 384.81,408.97 385.27,408.97 385.72,408.98 386.17,408.98 386.63,408.98 387.08,408.98 387.53,408.98 387.99,408.98 388.44,408.98 388.89,408.98 389.35,408.98 389.8,408.98 390.25,408.98 390.71,408.98 391.16,408.98 391.61,408.98 392.07,408.99 392.52,408.99 392.97,408.99 393.43,408.99 393.88,408.99 394.33,408.99 394.79,408.99 395.24,408.99 395.69,408.99 396.15,408.99 396.6,408.99 397.05,408.99 397.51,408.99 397.96,408.99 398.41,408.99 398.87,408.99 399.32,408.99 399.77,408.99 400.23,408.99 400.68,408.99 401.13,408.99 401.59,408.99 402.04,408.99 402.49,408.99 402.95,408.99 403.4,408.99 403.85,408.99 404.31,408.99 404.76,408.99 405.21,408.99 405.67,408.99 406.12,408.99 406.57,409.0 407.03,409.0 407.48,409.0 407.93,409.0 408.39,409.0 408.84,409.0 409.29,409.0 409.75,409.0 410.2,409.0 410.65,409.0 411.11,409.0 411.56,409.0 412.01,409.0 412.47,409.0 412.92,409.0 413.37,409.0 413.83,409.0 414.28,409.0 414.73,409.0 415.19,409.0 415.64,409.0 416.09,409.0 416.55,409.0 417.0,409.0 417.45,409.0 417.91,409.0 418.36,409.0 418.81,409.0 419.27,409.0 419.72,409.0 420.17,409.0 420.63,409.0 421.08,409.0 421.53,409.0 421.99,409.0 422.44,409.0 422.89,409.0 423.35,409.0 423.8,409.0 424.25,409.0 424.71,409.0 425.16,409.0 425.61,409.0 426.07,409.0 426.52,409.0 426.97,409.0 427.43,409.0 427.88,409.0 428.33,409.0 428.79,409.0 429.24,409.0 429.69,409.0 430.15,409.0 430.6,409.0 431.05,409.0 431.51,409.0 431.96,409.0 432.41,409.0 432.87,409.0 433.32,409.0 433.77,409.0 434.23,409.0 434.68,409.0 435.13,409.0 435.59,409.0 436.04,409.0 436.49,409.0 436.95,409.0 437.4,409.0 437.85,409.0 438.31,409.0 438.76,409.0 439.21,409.0 439.67,409.0 440.12,409.0 440.57,409.0 441.03,409.0 441.48,409.0 441.93,409.0 442.39,409.0 442.84,409.0 443.29,409.0 443.75,409.0 444.2,409.0 444.65,409.0 445.11,409.0 445.56,409.0 446.01,409.0 446.47,409.0 446.92,409.0 447.37,409.0 447.83,409.0 448.28,409.0 448.73,409.0 449.19,409.0 449.64,409.0 450.09,409.0 450.55,409.0 451.0,409.0 451.45,409.0 451.91,409.0 452.36,409.0 452.81,409.0 453.27,409.0 453.72,409.0 454.17,409.0 454.63,409.0 455.08,409.0 455.53,409.0 455.99,409.0 456.44,409.0 456.89,409.0 457.35,409.0 457.8,409.0 458.25,409.0 458.71,409.0 459.16,409.0 459.61,409.0 460.07,409.0 460.52,409.0 460.97,409.0 461.43,409.0 461.88,409.0 462.33,409.0 462.79,409.0 463.24,409.0 463.69,409.0 464.15,409.0 464.6,409.0 465.05,409.0 465.51,409.0 465.96,409.0 466.41,409.0 466.87,409.0 467.32,409.0 467.77,409.0 468.23,409.0 468.68,409.0 469.13,409.0 469.59,409.0 470.04,409.0 470.49,409.0 470.95,409.0 471.4,409.0 471.85,409.0 472.31,409.0 472.76,409.0 473.21,409.0 473.67,409.0 474.12,409.0 474.57,409.0 475.03,409.0 475.48,409.0 475.93,409.0 476.39,409.0 476.84,409.0 477.29,409.0 477.75,409.0 478.2,409.0 478.65,409.0 479.11,409.0 479.56,409.0 480.01,409.0 480.47,409.0 480.92,409.0 481.37,409.0 481.83,409.0 482.28,409.0 482.73,409.0 483.19,409.0 483.64,409.0 484.09,409.0 484.55,409.0 485.0,409.0 485.45,409.0 485.91,409.0 486.36,409.0 486.81,409.0 487.27,409.0 487.72,409.0 488.17,409.0 488.63,409.0 489.08,409.0 489.53,409.0 489.99,409.0 490.44,409.0 490.89,409.0 491.35,409.0 491.8,409.0 492.25,409.0 492.71,409.0 493.16,409.0 493.61,409.0 494.07,409.0 494.52,409.0 494.97,409.0 495.43,409.0 495.88,409.0 496.33,409.0 496.79,409.0 497.24,409.0 497.69,409.0 498.15,409.0 498.6,409.0 499.05,409.0 499.51,409.0 499.96,409.0 500.41,409.0 500.87,409.0 501.32,409.0 501.77,409.0 502.23,409.0 502.68,409.0 503.13,409.0 503.59,409.0 504.04,409.0 504.49,409.0 504.95,409.0 505.4,409.0 505.85,409.0 506.31,409.0 506.76,409.0 507.21,409.0 507.67,409.0 508.12,409.0 508.57,409.0 509.03,409.0 509.48,409.0 509.93,409.0 510.39,409.0 510.84,409.0 511.29,409.0 511.75,409.0 512.2,409.0 512.65,409.0 513.11,409.0 513.56,409.0 514.01,409.0 514.47,409.0 514.92,409.0 515.37,409.0 515.83,409.0 516.28,409.0 516.73,409.0 517.19,409.0 517.64,409.0 518.09,409.0 518.55,409.0 519.0,409.0 519.45,409.0 519.91,409.0 520.36,409.0 520.81,409.0 521.27,409.0 521.72,409.0 522.17,409.0 522.63,409.0 523.08,409.0 523.53,409.0 523.99,409.0 524.44,409.0 524.89,409.0 525.35,409.0 525.8,409.0 526.25,409.0 526.71,409.0 527.16,409.0 527.61,409.0 528.07,409.0 528.52,409.0 528.97,409.0 529.43,409.0 529.88,409.0 530.33,409.0 530.79,409.0 531.24,409.0 531.69,409.0 532.15,409.0 532.6,409.0 533.05,409.0 533.51,409.0 533.96,409.0 534.41,409.0 534.87,409.0 535.32,409.0 535.77,409.0 536.23,409.0 536.68,409.0 537.13,409.0 537.59,409.0 538.04,409.0 538.49,409.0 538.95,409.0 539.4,409.0 539.85,409.0 540.31,409.0 540.76,409.0 541.21,409.0 541.67,409.0 542.12,409.0 542.57,409.0 543.03,409.0 543.48,409.0 543.93,409.0 544.39,409.0 544.84,409.0 545.29,409.0 545.75,409.0 546.2,409.0 546.65,409.0 547.11,409.0 547.56,409.0 548.01,409.0 548.47,409.0 548.92,409.0 549.37,409.0 549.83,409.0 550.28,409.0 550.73,409.0 551.19,409.0 551.64,409.0 552.09,409.0 552.55,409.0 553.0,409.0 553.45,409.0 553.91,409.0 554.36,409.0 554.81,409.0 555.27,409.0 555.72,409.0 556.17,409.0 556.63,409.0 557.08,409.0 557.53,409.0 557.99,409.0 558.44,409.0 558.89,409.0 559.35,409.0 559.8,409.0 560.25,409.0 560.71,409.0 561.16,409.0 561.61,409.0 562.07,409.0 562.52,409.0 562.97,409.0 563.43,409.0 563.88,409.0 564.33,409.0 564.79,409.0 565.24,409.0 565.69,409.0 566.15,409.0 566.6,409.0 567.05,409.0 567.51,409.0 567.96,409.0 568.41,409.0 568.87,409.0 569.32,409.0 569.77,409.0 570.23,409.0 570.68,409.0 571.13,409.0 571.59,409.0 572.04,409.0 572.49,409.0 572.95,409.0 573.4,409.0 573.85,409.0 574.31,409.0 574.76,409.0 575.21,409.0 575.67,409.0 576.12,409.0 576.57,409.0 577.03,409.0 577.48,409.0 577.93,409.0 578.39,409.0 578.84,409.0 579.29,409.0 579.75,409.0 580.2,409.0 580.65,409.0 581.11,409.0 581.56,409.0 582.01,409.0 582.47,409.0 582.92,409.0 583.37,409.0 583.83,409.0 584.28,409.0 584.73,409.0 585.19,409.0 585.64,409.0 586.09,409.0 586.55,409.0 587.0,409.0 587.45,409.0 587.91,409.0 588.36,409.0 588.81,409.0 589.27,409.0 589.72,409.0 590.17,409.0 590.63,409.0 591.08,409.0 591.53,409.0 591.99,409.0 592.44,409.0 592.89,409.0 593.35,409.0 593.8,409.0 594.25,409.0 594.71,409.0 595.16,409.0 595.61,409.0 596.07,409.0 596.52,409.0 596.97,409.0 597.43,409.0 597.88,409.0 598.33,409.0 598.79,409.0 599.24,409.0 599.69,409.0 600.15,409.0 600.6,409.0 601.05,409.0 601.51,409.0 601.96,409.0 602.41,409.0 602.87,409.0 603.32,409.0 603.77,409.0 604.23,409.0 604.68,409.0 605.13,409.0 605.59,409.0 606.04,409.0 606.49,409.0 606.95,409.0 607.4,409.0 607.85,409.0 608.31,409.0 608.76,409.0 609.21,409.0 609.67,409.0 610.12,409.0 610.57,409.0 611.03,409.0 611.48,409.0 611.93,409.0 612.39,409.0 612.84,409.0 613.29,409.0 613.75,409.0 614.2,409.0 614.65,409.0 615.11,409.0 615.56,409.0 616.01,409.0 616.47,409.0 616.92,409.0 617.37,409.0 617.83,409.0 618.28,409.0 618.73,409.0 619.19,409.0 619.64,409.0 620.09,409.0 620.55,409.0 621.0,409.0" fill="none" stroke="#ed7d31" stroke-width="3.2" stroke-dasharray="7 7.81" stroke-dashoffset="2.67" stroke-linecap="round"/>
<line x1="301" y1="51.7" x2="326" y2="51.7" stroke="#555" stroke-width="2.6"/>
<rect x="309.5" y="47.7" width="8" height="8" fill="#0a6fc2"/>
<line x1="301.7" y1="95.8" x2="326" y2="95.8" stroke="#ee1c2a" stroke-width="3.6" stroke-dasharray="0.01 7.4" stroke-linecap="round"/>
<line x1="301.5" y1="140.2" x2="313" y2="140.2" stroke="#000" stroke-width="3.6" stroke-linecap="round"/>
<line x1="300" y1="184.6" x2="325" y2="184.6" stroke="#ed7d31" stroke-width="3.2" stroke-dasharray="10.5 5"/>
<text x="329" y="58.0" font-family="Liberation Serif" font-weight="bold" font-size="19.2">Reference case (μ=32, σ=8, ρ=7.5)</text>
<text x="329" y="102.1" font-family="Liberation Serif" font-weight="bold" font-size="19.2">μ=42, σ=8, ρ=7.5</text>
<text x="329" y="146.5" font-family="Liberation Serif" font-weight="bold" font-size="19.2">μ=52, σ=8, ρ=7.5</text>
<text x="329" y="190.9" font-family="Liberation Serif" font-weight="bold" font-size="19.2">μ=32, σ=2, ρ=3</text>
<line x1="720.9" y1="337.25" x2="1255.6" y2="337.25" stroke="#f4f4f4" stroke-width="2.4"/>
<line x1="720.9" y1="271.7" x2="1255.6" y2="271.7" stroke="#f4f4f4" stroke-width="2.4"/>
<line x1="720.9" y1="206.15" x2="1255.6" y2="206.15" stroke="#f4f4f4" stroke-width="2.4"/>
<line x1="720.9" y1="140.6" x2="1255.6" y2="140.6" stroke="#f4f4f4" stroke-width="2.4"/>
<line x1="720.9" y1="75.05" x2="1255.6" y2="75.05" stroke="#f4f4f4" stroke-width="2.4"/>
<line x1="827.84" y1="9.5" x2="827.84" y2="402.8" stroke="#f4f4f4" stroke-width="2.4"/>
<line x1="934.78" y1="9.5" x2="934.78" y2="402.8" stroke="#f4f4f4" stroke-width="2.4"/>
<line x1="1041.72" y1="9.5" x2="1041.72" y2="402.8" stroke="#f4f4f4" stroke-width="2.4"/>
<line x1="1148.66" y1="9.5" x2="1148.66" y2="402.8" stroke="#f4f4f4" stroke-width="2.4"/>
<rect x="760" y="168" width="44" height="36" fill="#fff"/>
<path d="M720.9 9.8H1256.1999999999998" fill="none" stroke="#333" stroke-width="2.7"/>
<path d="M1256.1999999999998 9.8V402.8" fill="none" stroke="#5a5a5a" stroke-width="2.6"/>
<line x1="721.3" y1="8.5" x2="721.3" y2="403.8" stroke="#262626" stroke-width="2.4"/>
<line x1="719.9" y1="402.8" x2="1255.6" y2="402.8" stroke="#262626" stroke-width="2.4"/>
<line x1="716.5" y1="402.8" x2="728.0999999999999" y2="402.8" stroke="#262626" stroke-width="2.6"/>
<line x1="716.6999999999999" y1="389.69" x2="721.3" y2="389.69" stroke="#262626" stroke-width="2.2"/>
<line x1="716.6999999999999" y1="376.58" x2="721.3" y2="376.58" stroke="#262626" stroke-width="2.2"/>
<line x1="716.6999999999999" y1="363.47" x2="721.3" y2="363.47" stroke="#262626" stroke-width="2.2"/>
<line x1="716.6999999999999" y1="350.36" x2="721.3" y2="350.36" stroke="#262626" stroke-width="2.2"/>
<line x1="716.5" y1="337.25" x2="728.0999999999999" y2="337.25" stroke="#262626" stroke-width="2.6"/>
<line x1="716.6999999999999" y1="324.14" x2="721.3" y2="324.14" stroke="#262626" stroke-width="2.2"/>
<line x1="716.6999999999999" y1="311.03" x2="721.3" y2="311.03" stroke="#262626" stroke-width="2.2"/>
<line x1="716.6999999999999" y1="297.92" x2="721.3" y2="297.92" stroke="#262626" stroke-width="2.2"/>
<line x1="716.6999999999999" y1="284.81" x2="721.3" y2="284.81" stroke="#262626" stroke-width="2.2"/>
<line x1="716.5" y1="271.7" x2="728.0999999999999" y2="271.7" stroke="#262626" stroke-width="2.6"/>
<line x1="716.6999999999999" y1="258.59" x2="721.3" y2="258.59" stroke="#262626" stroke-width="2.2"/>
<line x1="716.6999999999999" y1="245.48" x2="721.3" y2="245.48" stroke="#262626" stroke-width="2.2"/>
<line x1="716.6999999999999" y1="232.37" x2="721.3" y2="232.37" stroke="#262626" stroke-width="2.2"/>
<line x1="716.6999999999999" y1="219.26" x2="721.3" y2="219.26" stroke="#262626" stroke-width="2.2"/>
<line x1="716.5" y1="206.15" x2="728.0999999999999" y2="206.15" stroke="#262626" stroke-width="2.6"/>
<line x1="716.6999999999999" y1="193.04" x2="721.3" y2="193.04" stroke="#262626" stroke-width="2.2"/>
<line x1="716.6999999999999" y1="179.93" x2="721.3" y2="179.93" stroke="#262626" stroke-width="2.2"/>
<line x1="716.6999999999999" y1="166.82" x2="721.3" y2="166.82" stroke="#262626" stroke-width="2.2"/>
<line x1="716.6999999999999" y1="153.71" x2="721.3" y2="153.71" stroke="#262626" stroke-width="2.2"/>
<line x1="716.5" y1="140.6" x2="728.0999999999999" y2="140.6" stroke="#262626" stroke-width="2.6"/>
<line x1="716.6999999999999" y1="127.49" x2="721.3" y2="127.49" stroke="#262626" stroke-width="2.2"/>
<line x1="716.6999999999999" y1="114.38" x2="721.3" y2="114.38" stroke="#262626" stroke-width="2.2"/>
<line x1="716.6999999999999" y1="101.27" x2="721.3" y2="101.27" stroke="#262626" stroke-width="2.2"/>
<line x1="716.6999999999999" y1="88.16" x2="721.3" y2="88.16" stroke="#262626" stroke-width="2.2"/>
<line x1="716.5" y1="75.05" x2="728.0999999999999" y2="75.05" stroke="#262626" stroke-width="2.6"/>
<line x1="716.6999999999999" y1="61.94" x2="721.3" y2="61.94" stroke="#262626" stroke-width="2.2"/>
<line x1="716.6999999999999" y1="48.83" x2="721.3" y2="48.83" stroke="#262626" stroke-width="2.2"/>
<line x1="716.6999999999999" y1="35.72" x2="721.3" y2="35.72" stroke="#262626" stroke-width="2.2"/>
<line x1="716.6999999999999" y1="22.61" x2="721.3" y2="22.61" stroke="#262626" stroke-width="2.2"/>
<line x1="716.5" y1="9.5" x2="728.0999999999999" y2="9.5" stroke="#262626" stroke-width="2.6"/>
<line x1="720.9" y1="396.0" x2="720.9" y2="407.6" stroke="#262626" stroke-width="2.6"/>
<line x1="742.29" y1="402.8" x2="742.29" y2="407.40000000000003" stroke="#262626" stroke-width="2.2"/>
<line x1="763.68" y1="402.8" x2="763.68" y2="407.40000000000003" stroke="#262626" stroke-width="2.2"/>
<line x1="785.06" y1="402.8" x2="785.06" y2="407.40000000000003" stroke="#262626" stroke-width="2.2"/>
<line x1="806.45" y1="402.8" x2="806.45" y2="407.40000000000003" stroke="#262626" stroke-width="2.2"/>
<line x1="827.84" y1="396.0" x2="827.84" y2="407.6" stroke="#262626" stroke-width="2.6"/>
<line x1="849.23" y1="402.8" x2="849.23" y2="407.40000000000003" stroke="#262626" stroke-width="2.2"/>
<line x1="870.62" y1="402.8" x2="870.62" y2="407.40000000000003" stroke="#262626" stroke-width="2.2"/>
<line x1="892.0" y1="402.8" x2="892.0" y2="407.40000000000003" stroke="#262626" stroke-width="2.2"/>
<line x1="913.39" y1="402.8" x2="913.39" y2="407.40000000000003" stroke="#262626" stroke-width="2.2"/>
<line x1="934.78" y1="396.0" x2="934.78" y2="407.6" stroke="#262626" stroke-width="2.6"/>
<line x1="956.17" y1="402.8" x2="956.17" y2="407.40000000000003" stroke="#262626" stroke-width="2.2"/>
<line x1="977.56" y1="402.8" x2="977.56" y2="407.40000000000003" stroke="#262626" stroke-width="2.2"/>
<line x1="998.94" y1="402.8" x2="998.94" y2="407.40000000000003" stroke="#262626" stroke-width="2.2"/>
<line x1="1020.33" y1="402.8" x2="1020.33" y2="407.40000000000003" stroke="#262626" stroke-width="2.2"/>
<line x1="1041.72" y1="396.0" x2="1041.72" y2="407.6" stroke="#262626" stroke-width="2.6"/>
<line x1="1063.11" y1="402.8" x2="1063.11" y2="407.40000000000003" stroke="#262626" stroke-width="2.2"/>
<line x1="1084.5" y1="402.8" x2="1084.5" y2="407.40000000000003" stroke="#262626" stroke-width="2.2"/>
<line x1="1105.88" y1="402.8" x2="1105.88" y2="407.40000000000003" stroke="#262626" stroke-width="2.2"/>
<line x1="1127.27" y1="402.8" x2="1127.27" y2="407.40000000000003" stroke="#262626" stroke-width="2.2"/>
<line x1="1148.66" y1="396.0" x2="1148.66" y2="407.6" stroke="#262626" stroke-width="2.6"/>
<line x1="1170.05" y1="402.8" x2="1170.05" y2="407.40000000000003" stroke="#262626" stroke-width="2.2"/>
<line x1="1191.44" y1="402.8" x2="1191.44" y2="407.40000000000003" stroke="#262626" stroke-width="2.2"/>
<line x1="1212.82" y1="402.8" x2="1212.82" y2="407.40000000000003" stroke="#262626" stroke-width="2.2"/>
<line x1="1234.21" y1="402.8" x2="1234.21" y2="407.40000000000003" stroke="#262626" stroke-width="2.2"/>
<line x1="1255.6" y1="396.0" x2="1255.6" y2="407.6" stroke="#262626" stroke-width="2.6"/>
<text x="702" y="409.8" text-anchor="end" font-family="Liberation Serif" font-weight="bold" font-size="22.8">1</text>
<text x="702" y="344.25" text-anchor="end" font-family="Liberation Serif" font-weight="bold" font-size="22.8">1.5</text>
<text x="702" y="278.7" text-anchor="end" font-family="Liberation Serif" font-weight="bold" font-size="22.8">2</text>
<text x="702" y="213.15" text-anchor="end" font-family="Liberation Serif" font-weight="bold" font-size="22.8">2.5</text>
<text x="702" y="147.6" text-anchor="end" font-family="Liberation Serif" font-weight="bold" font-size="22.8">3</text>
<text x="702" y="82.05" text-anchor="end" font-family="Liberation Serif" font-weight="bold" font-size="22.8">3.5</text>
<text x="702" y="16.5" text-anchor="end" font-family="Liberation Serif" font-weight="bold" font-size="22.8">4</text>
<text x="720.9" y="438" text-anchor="middle" font-family="Liberation Serif" font-weight="bold" font-size="22.8">0</text>
<text x="827.84" y="438" text-anchor="middle" font-family="Liberation Serif" font-weight="bold" font-size="22.8">200</text>
<text x="934.78" y="438" text-anchor="middle" font-family="Liberation Serif" font-weight="bold" font-size="22.8">400</text>
<text x="1041.72" y="438" text-anchor="middle" font-family="Liberation Serif" font-weight="bold" font-size="22.8">600</text>
<text x="1148.66" y="438" text-anchor="middle" font-family="Liberation Serif" font-weight="bold" font-size="22.8">800</text>
<text x="1255.6" y="438" text-anchor="middle" font-family="Liberation Serif" font-weight="bold" font-size="22.8">1000</text>
<text x="989.5" y="463.6" text-anchor="middle" font-family="Liberation Serif" font-weight="bold" font-size="23.4">Cycle Number</text>
<text transform="translate(666,206.5) rotate(-90)" x="0" y="0" text-anchor="middle" font-family="Liberation Serif" font-weight="bold" font-size="23.4">Capacity Fade (%)</text>
<text x="781.7" y="198.4" text-anchor="middle" font-family="Liberation Serif" font-weight="bold" font-size="32.5">(b)</text>
<path d="M716.25 389.78h9.3v9.3h-9.3zM717.32 387.91h9.3v9.3h-9.3zM718.39 386.13h9.3v9.3h-9.3zM719.46 384.43h9.3v9.3h-9.3zM720.53 382.79h9.3v9.3h-9.3zM721.6 381.21h9.3v9.3h-9.3zM722.67 379.68h9.3v9.3h-9.3zM723.74 378.19h9.3v9.3h-9.3zM724.81 376.75h9.3v9.3h-9.3zM725.87 375.34h9.3v9.3h-9.3zM726.94 373.96h9.3v9.3h-9.3zM728.01 372.61h9.3v9.3h-9.3zM729.08 371.29h9.3v9.3h-9.3zM730.15 370.0h9.3v9.3h-9.3zM731.22 368.72h9.3v9.3h-9.3zM732.29 367.47h9.3v9.3h-9.3zM733.36 366.24h9.3v9.3h-9.3zM734.43 365.03h9.3v9.3h-9.3zM735.5 363.84h9.3v9.3h-9.3zM736.57 362.66h9.3v9.3h-9.3zM737.64 361.5h9.3v9.3h-9.3zM738.71 360.35h9.3v9.3h-9.3zM739.78 359.22h9.3v9.3h-9.3zM740.85 358.1h9.3v9.3h-9.3zM741.92 356.99h9.3v9.3h-9.3zM742.98 355.9h9.3v9.3h-9.3zM744.05 354.81h9.3v9.3h-9.3zM745.12 353.74h9.3v9.3h-9.3zM746.19 352.68h9.3v9.3h-9.3zM747.26 351.63h9.3v9.3h-9.3zM748.33 350.59h9.3v9.3h-9.3zM749.4 349.55h9.3v9.3h-9.3zM750.47 348.53h9.3v9.3h-9.3zM751.54 347.52h9.3v9.3h-9.3zM752.61 346.51h9.3v9.3h-9.3zM753.68 345.51h9.3v9.3h-9.3zM754.75 344.52h9.3v9.3h-9.3zM755.82 343.54h9.3v9.3h-9.3zM756.89 342.56h9.3v9.3h-9.3zM757.96 341.59h9.3v9.3h-9.3zM759.03 340.63h9.3v9.3h-9.3zM760.1 339.67h9.3v9.3h-9.3zM761.16 338.72h9.3v9.3h-9.3zM762.23 337.78h9.3v9.3h-9.3zM763.3 336.84h9.3v9.3h-9.3zM764.37 335.91h9.3v9.3h-9.3zM765.44 334.98h9.3v9.3h-9.3zM766.51 334.06h9.3v9.3h-9.3zM767.58 333.14h9.3v9.3h-9.3zM768.65 332.23h9.3v9.3h-9.3zM769.72 331.33h9.3v9.3h-9.3zM770.79 330.43h9.3v9.3h-9.3zM771.86 329.53h9.3v9.3h-9.3zM772.93 328.64h9.3v9.3h-9.3zM774.0 327.75h9.3v9.3h-9.3zM775.07 326.87h9.3v9.3h-9.3zM776.14 325.99h9.3v9.3h-9.3zM777.21 325.12h9.3v9.3h-9.3zM778.28 324.25h9.3v9.3h-9.3zM779.34 323.39h9.3v9.3h-9.3zM780.41 322.52h9.3v9.3h-9.3zM781.48 321.67h9.3v9.3h-9.3zM782.55 320.81h9.3v9.3h-9.3zM783.62 319.96h9.3v9.3h-9.3zM784.69 319.12h9.3v9.3h-9.3zM785.76 318.27h9.3v9.3h-9.3zM786.83 317.43h9.3v9.3h-9.3zM787.9 316.6h9.3v9.3h-9.3zM788.97 315.76h9.3v9.3h-9.3zM790.04 314.93h9.3v9.3h-9.3zM791.11 314.11h9.3v9.3h-9.3zM792.18 313.28h9.3v9.3h-9.3zM793.25 312.46h9.3v9.3h-9.3zM794.32 311.65h9.3v9.3h-9.3zM795.39 310.83h9.3v9.3h-9.3zM796.46 310.02h9.3v9.3h-9.3zM797.52 309.21h9.3v9.3h-9.3zM798.59 308.41h9.3v9.3h-9.3zM799.66 307.61h9.3v9.3h-9.3zM800.73 306.81h9.3v9.3h-9.3zM801.8 306.01h9.3v9.3h-9.3zM802.87 305.21h9.3v9.3h-9.3zM803.94 304.42h9.3v9.3h-9.3zM805.01 303.63h9.3v9.3h-9.3zM806.08 302.85h9.3v9.3h-9.3zM807.15 302.06h9.3v9.3h-9.3zM808.22 301.28h9.3v9.3h-9.3zM809.29 300.5h9.3v9.3h-9.3zM810.36 299.72h9.3v9.3h-9.3zM811.43 298.95h9.3v9.3h-9.3zM812.5 298.17h9.3v9.3h-9.3zM813.57 297.4h9.3v9.3h-9.3zM814.63 296.63h9.3v9.3h-9.3zM815.7 295.87h9.3v9.3h-9.3zM816.77 295.1h9.3v9.3h-9.3zM817.84 294.34h9.3v9.3h-9.3zM818.91 293.58h9.3v9.3h-9.3zM819.98 292.83h9.3v9.3h-9.3zM821.05 292.07h9.3v9.3h-9.3zM822.12 291.32h9.3v9.3h-9.3zM823.19 290.56h9.3v9.3h-9.3zM824.26 289.81h9.3v9.3h-9.3zM825.33 289.07h9.3v9.3h-9.3zM826.4 288.32h9.3v9.3h-9.3zM827.47 287.58h9.3v9.3h-9.3zM828.54 286.84h9.3v9.3h-9.3zM829.61 286.09h9.3v9.3h-9.3zM830.68 285.36h9.3v9.3h-9.3zM831.75 284.62h9.3v9.3h-9.3zM832.81 283.88h9.3v9.3h-9.3zM833.88 283.15h9.3v9.3h-9.3zM834.95 282.42h9.3v9.3h-9.3zM836.02 281.69h9.3v9.3h-9.3zM837.09 280.96h9.3v9.3h-9.3zM838.16 280.24h9.3v9.3h-9.3zM839.23 279.51h9.3v9.3h-9.3zM840.3 278.79h9.3v9.3h-9.3zM841.37 278.07h9.3v9.3h-9.3zM842.44 277.35h9.3v9.3h-9.3zM843.51 276.63h9.3v9.3h-9.3zM844.58 275.91h9.3v9.3h-9.3zM845.65 275.19h9.3v9.3h-9.3zM846.72 274.48h9.3v9.3h-9.3zM847.79 273.77h9.3v9.3h-9.3zM848.86 273.06h9.3v9.3h-9.3zM849.92 272.35h9.3v9.3h-9.3zM850.99 271.64h9.3v9.3h-9.3zM852.06 270.93h9.3v9.3h-9.3zM853.13 270.23h9.3v9.3h-9.3zM854.2 269.52h9.3v9.3h-9.3zM855.27 268.82h9.3v9.3h-9.3zM856.34 268.12h9.3v9.3h-9.3zM857.41 267.42h9.3v9.3h-9.3zM858.48 266.72h9.3v9.3h-9.3zM859.55 266.03h9.3v9.3h-9.3zM860.62 265.33h9.3v9.3h-9.3zM861.69 264.64h9.3v9.3h-9.3zM862.76 263.94h9.3v9.3h-9.3zM863.83 263.25h9.3v9.3h-9.3zM864.9 262.56h9.3v9.3h-9.3zM865.97 261.87h9.3v9.3h-9.3zM867.04 261.18h9.3v9.3h-9.3zM868.1 260.5h9.3v9.3h-9.3zM869.17 259.81h9.3v9.3h-9.3zM870.24 259.13h9.3v9.3h-9.3zM871.31 258.44h9.3v9.3h-9.3zM872.38 257.76h9.3v9.3h-9.3zM873.45 257.08h9.3v9.3h-9.3zM874.52 256.4h9.3v9.3h-9.3zM875.59 255.72h9.3v9.3h-9.3zM876.66 255.05h9.3v9.3h-9.3zM877.73 254.37h9.3v9.3h-9.3zM878.8 253.69h9.3v9.3h-9.3zM879.87 253.02h9.3v9.3h-9.3zM880.94 252.35h9.3v9.3h-9.3zM882.01 251.68h9.3v9.3h-9.3zM883.08 251.0h9.3v9.3h-9.3zM884.15 250.34h9.3v9.3h-9.3zM885.22 249.67h9.3v9.3h-9.3zM886.28 249.0h9.3v9.3h-9.3zM887.35 248.33h9.3v9.3h-9.3zM888.42 247.67h9.3v9.3h-9.3zM889.49 247.0h9.3v9.3h-9.3zM890.56 246.34h9.3v9.3h-9.3zM891.63 245.68h9.3v9.3h-9.3zM892.7 245.02h9.3v9.3h-9.3zM893.77 244.36h9.3v9.3h-9.3zM894.84 243.7h9.3v9.3h-9.3zM895.91 243.04h9.3v9.3h-9.3zM896.98 242.38h9.3v9.3h-9.3zM898.05 241.72h9.3v9.3h-9.3zM899.12 241.07h9.3v9.3h-9.3zM900.19 240.41h9.3v9.3h-9.3zM901.26 239.76h9.3v9.3h-9.3zM902.33 239.11h9.3v9.3h-9.3zM903.4 238.46h9.3v9.3h-9.3zM904.46 237.81h9.3v9.3h-9.3zM905.53 237.16h9.3v9.3h-9.3zM906.6 236.51h9.3v9.3h-9.3zM907.67 235.86h9.3v9.3h-9.3zM908.74 235.21h9.3v9.3h-9.3zM909.81 234.57h9.3v9.3h-9.3zM910.88 233.92h9.3v9.3h-9.3zM911.95 233.28h9.3v9.3h-9.3zM913.02 232.63h9.3v9.3h-9.3zM914.09 231.99h9.3v9.3h-9.3zM915.16 231.35h9.3v9.3h-9.3zM916.23 230.71h9.3v9.3h-9.3zM917.3 230.07h9.3v9.3h-9.3zM918.37 229.43h9.3v9.3h-9.3zM919.44 228.79h9.3v9.3h-9.3zM920.51 228.15h9.3v9.3h-9.3zM921.57 227.51h9.3v9.3h-9.3zM922.64 226.88h9.3v9.3h-9.3zM923.71 226.24h9.3v9.3h-9.3zM924.78 225.61h9.3v9.3h-9.3zM925.85 224.97h9.3v9.3h-9.3zM926.92 224.34h9.3v9.3h-9.3zM927.99 223.71h9.3v9.3h-9.3zM929.06 223.08h9.3v9.3h-9.3zM930.13 222.45h9.3v9.3h-9.3zM931.2 221.82h9.3v9.3h-9.3zM932.27 221.19h9.3v9.3h-9.3zM933.34 220.56h9.3v9.3h-9.3zM934.41 219.93h9.3v9.3h-9.3zM935.48 219.31h9.3v9.3h-9.3zM936.55 218.68h9.3v9.3h-9.3zM937.62 218.06h9.3v9.3h-9.3zM938.69 217.43h9.3v9.3h-9.3zM939.75 216.81h9.3v9.3h-9.3zM940.82 216.19h9.3v9.3h-9.3zM941.89 215.56h9.3v9.3h-9.3zM942.96 214.94h9.3v9.3h-9.3zM944.03 214.32h9.3v9.3h-9.3zM945.1 213.7h9.3v9.3h-9.3zM946.17 213.08h9.3v9.3h-9.3zM947.24 212.46h9.3v9.3h-9.3zM948.31 211.85h9.3v9.3h-9.3zM949.38 211.23h9.3v9.3h-9.3zM950.45 210.61h9.3v9.3h-9.3zM951.52 210.0h9.3v9.3h-9.3zM952.59 209.38h9.3v9.3h-9.3zM953.66 208.77h9.3v9.3h-9.3zM954.73 208.15h9.3v9.3h-9.3zM955.8 207.54h9.3v9.3h-9.3zM956.86 206.93h9.3v9.3h-9.3zM957.93 206.31h9.3v9.3h-9.3zM959.0 205.7h9.3v9.3h-9.3zM960.07 205.09h9.3v9.3h-9.3zM961.14 204.48h9.3v9.3h-9.3zM962.21 203.87h9.3v9.3h-9.3zM963.28 203.27h9.3v9.3h-9.3zM964.35 202.66h9.3v9.3h-9.3zM965.42 202.05h9.3v9.3h-9.3zM966.49 201.44h9.3v9.3h-9.3zM967.56 200.84h9.3v9.3h-9.3zM968.63 200.23h9.3v9.3h-9.3zM969.7 199.63h9.3v9.3h-9.3zM970.77 199.02h9.3v9.3h-9.3zM971.84 198.42h9.3v9.3h-9.3zM972.91 197.82h9.3v9.3h-9.3zM973.98 197.22h9.3v9.3h-9.3zM975.04 196.61h9.3v9.3h-9.3zM976.11 196.01h9.3v9.3h-9.3zM977.18 195.41h9.3v9.3h-9.3zM978.25 194.81h9.3v9.3h-9.3zM979.32 194.21h9.3v9.3h-9.3zM980.39 193.62h9.3v9.3h-9.3zM981.46 193.02h9.3v9.3h-9.3zM982.53 192.42h9.3v9.3h-9.3zM983.6 191.82h9.3v9.3h-9.3zM984.67 191.23h9.3v9.3h-9.3zM985.74 190.63h9.3v9.3h-9.3zM986.81 190.04h9.3v9.3h-9.3zM987.88 189.44h9.3v9.3h-9.3zM988.95 188.85h9.3v9.3h-9.3zM990.02 188.25h9.3v9.3h-9.3zM991.09 187.66h9.3v9.3h-9.3zM992.16 187.07h9.3v9.3h-9.3zM993.22 186.48h9.3v9.3h-9.3zM994.29 185.89h9.3v9.3h-9.3zM995.36 185.3h9.3v9.3h-9.3zM996.43 184.71h9.3v9.3h-9.3zM997.5 184.12h9.3v9.3h-9.3zM998.57 183.53h9.3v9.3h-9.3zM999.64 182.94h9.3v9.3h-9.3zM1000.71 182.35h9.3v9.3h-9.3zM1001.78 181.76h9.3v9.3h-9.3zM1002.85 181.18h9.3v9.3h-9.3zM1003.92 180.59h9.3v9.3h-9.3zM1004.99 180.0h9.3v9.3h-9.3zM1006.06 179.42h9.3v9.3h-9.3zM1007.13 178.84h9.3v9.3h-9.3zM1008.2 178.25h9.3v9.3h-9.3zM1009.27 177.67h9.3v9.3h-9.3zM1010.33 177.08h9.3v9.3h-9.3zM1011.4 176.5h9.3v9.3h-9.3zM1012.47 175.92h9.3v9.3h-9.3zM1013.54 175.34h9.3v9.3h-9.3zM1014.61 174.76h9.3v9.3h-9.3zM1015.68 174.18h9.3v9.3h-9.3zM1016.75 173.6h9.3v9.3h-9.3zM1017.82 173.02h9.3v9.3h-9.3zM1018.89 172.44h9.3v9.3h-9.3zM1019.96 171.86h9.3v9.3h-9.3zM1021.03 171.28h9.3v9.3h-9.3zM1022.1 170.7h9.3v9.3h-9.3zM1023.17 170.13h9.3v9.3h-9.3zM1024.24 169.55h9.3v9.3h-9.3zM1025.31 168.97h9.3v9.3h-9.3zM1026.38 168.4h9.3v9.3h-9.3zM1027.45 167.82h9.3v9.3h-9.3zM1028.51 167.25h9.3v9.3h-9.3zM1029.58 166.68h9.3v9.3h-9.3zM1030.65 166.1h9.3v9.3h-9.3zM1031.72 165.53h9.3v9.3h-9.3zM1032.79 164.96h9.3v9.3h-9.3zM1033.86 164.38h9.3v9.3h-9.3zM1034.93 163.81h9.3v9.3h-9.3zM1036.0 163.24h9.3v9.3h-9.3zM1037.07 162.67h9.3v9.3h-9.3zM1038.14 162.1h9.3v9.3h-9.3zM1039.21 161.53h9.3v9.3h-9.3zM1040.28 160.96h9.3v9.3h-9.3zM1041.35 160.39h9.3v9.3h-9.3zM1042.42 159.82h9.3v9.3h-9.3zM1043.49 159.25h9.3v9.3h-9.3zM1044.56 158.69h9.3v9.3h-9.3zM1045.63 158.12h9.3v9.3h-9.3zM1046.69 157.55h9.3v9.3h-9.3zM1047.76 156.99h9.3v9.3h-9.3zM1048.83 156.42h9.3v9.3h-9.3zM1049.9 155.86h9.3v9.3h-9.3zM1050.97 155.29h9.3v9.3h-9.3zM1052.04 154.73h9.3v9.3h-9.3zM1053.11 154.16h9.3v9.3h-9.3zM1054.18 153.6h9.3v9.3h-9.3zM1055.25 153.04h9.3v9.3h-9.3zM1056.32 152.47h9.3v9.3h-9.3zM1057.39 151.91h9.3v9.3h-9.3zM1058.46 151.35h9.3v9.3h-9.3zM1059.53 150.79h9.3v9.3h-9.3zM1060.6 150.23h9.3v9.3h-9.3zM1061.67 149.67h9.3v9.3h-9.3zM1062.74 149.11h9.3v9.3h-9.3zM1063.8 148.55h9.3v9.3h-9.3zM1064.87 147.99h9.3v9.3h-9.3zM1065.94 147.43h9.3v9.3h-9.3zM1067.01 146.87h9.3v9.3h-9.3zM1068.08 146.31h9.3v9.3h-9.3zM1069.15 145.75h9.3v9.3h-9.3zM1070.22 145.2h9.3v9.3h-9.3zM1071.29 144.64h9.3v9.3h-9.3zM1072.36 144.08h9.3v9.3h-9.3zM1073.43 143.53h9.3v9.3h-9.3zM1074.5 142.97h9.3v9.3h-9.3zM1075.57 142.42h9.3v9.3h-9.3zM1076.64 141.86h9.3v9.3h-9.3zM1077.71 141.31h9.3v9.3h-9.3zM1078.78 140.75h9.3v9.3h-9.3zM1079.85 140.2h9.3v9.3h-9.3zM1080.92 139.65h9.3v9.3h-9.3zM1081.98 139.09h9.3v9.3h-9.3zM1083.05 138.54h9.3v9.3h-9.3zM1084.12 137.99h9.3v9.3h-9.3zM1085.19 137.44h9.3v9.3h-9.3zM1086.26 136.89h9.3v9.3h-9.3zM1087.33 136.34h9.3v9.3h-9.3zM1088.4 135.79h9.3v9.3h-9.3zM1089.47 135.24h9.3v9.3h-9.3zM1090.54 134.69h9.3v9.3h-9.3zM1091.61 134.14h9.3v9.3h-9.3zM1092.68 133.59h9.3v9.3h-9.3zM1093.75 133.04h9.3v9.3h-9.3zM1094.82 132.49h9.3v9.3h-9.3zM1095.89 131.94h9.3v9.3h-9.3zM1096.96 131.4h9.3v9.3h-9.3zM1098.03 130.85h9.3v9.3h-9.3zM1099.1 130.3h9.3v9.3h-9.3zM1100.16 129.76h9.3v9.3h-9.3zM1101.23 129.21h9.3v9.3h-9.3zM1102.3 128.67h9.3v9.3h-9.3zM1103.37 128.12h9.3v9.3h-9.3zM1104.44 127.58h9.3v9.3h-9.3zM1105.51 127.03h9.3v9.3h-9.3zM1106.58 126.49h9.3v9.3h-9.3zM1107.65 125.95h9.3v9.3h-9.3zM1108.72 125.4h9.3v9.3h-9.3zM1109.79 124.86h9.3v9.3h-9.3zM1110.86 124.32h9.3v9.3h-9.3zM1111.93 123.77h9.3v9.3h-9.3zM1113.0 123.23h9.3v9.3h-9.3zM1114.07 122.69h9.3v9.3h-9.3zM1115.14 122.15h9.3v9.3h-9.3zM1116.21 121.61h9.3v9.3h-9.3zM1117.27 121.07h9.3v9.3h-9.3zM1118.34 120.53h9.3v9.3h-9.3zM1119.41 119.99h9.3v9.3h-9.3zM1120.48 119.45h9.3v9.3h-9.3zM1121.55 118.91h9.3v9.3h-9.3zM1122.62 118.37h9.3v9.3h-9.3zM1123.69 117.84h9.3v9.3h-9.3zM1124.76 117.3h9.3v9.3h-9.3zM1125.83 116.76h9.3v9.3h-9.3zM1126.9 116.22h9.3v9.3h-9.3zM1127.97 115.69h9.3v9.3h-9.3zM1129.04 115.15h9.3v9.3h-9.3zM1130.11 114.61h9.3v9.3h-9.3zM1131.18 114.08h9.3v9.3h-9.3zM1132.25 113.54h9.3v9.3h-9.3zM1133.32 113.01h9.3v9.3h-9.3zM1134.39 112.47h9.3v9.3h-9.3zM1135.45 111.94h9.3v9.3h-9.3zM1136.52 111.4h9.3v9.3h-9.3zM1137.59 110.87h9.3v9.3h-9.3zM1138.66 110.34h9.3v9.3h-9.3zM1139.73 109.8h9.3v9.3h-9.3zM1140.8 109.27h9.3v9.3h-9.3zM1141.87 108.74h9.3v9.3h-9.3zM1142.94 108.21h9.3v9.3h-9.3zM1144.01 107.68h9.3v9.3h-9.3zM1145.08 107.14h9.3v9.3h-9.3zM1146.15 106.61h9.3v9.3h-9.3zM1147.22 106.08h9.3v9.3h-9.3zM1148.29 105.55h9.3v9.3h-9.3zM1149.36 105.02h9.3v9.3h-9.3zM1150.43 104.49h9.3v9.3h-9.3zM1151.5 103.96h9.3v9.3h-9.3zM1152.57 103.43h9.3v9.3h-9.3zM1153.63 102.91h9.3v9.3h-9.3zM1154.7 102.38h9.3v9.3h-9.3zM1155.77 101.85h9.3v9.3h-9.3zM1156.84 101.32h9.3v9.3h-9.3zM1157.91 100.79h9.3v9.3h-9.3zM1158.98 100.27h9.3v9.3h-9.3zM1160.05 99.74h9.3v9.3h-9.3zM1161.12 99.21h9.3v9.3h-9.3zM1162.19 98.69h9.3v9.3h-9.3zM1163.26 98.16h9.3v9.3h-9.3zM1164.33 97.64h9.3v9.3h-9.3zM1165.4 97.11h9.3v9.3h-9.3zM1166.47 96.59h9.3v9.3h-9.3zM1167.54 96.06h9.3v9.3h-9.3zM1168.61 95.54h9.3v9.3h-9.3zM1169.68 95.01h9.3v9.3h-9.3zM1170.74 94.49h9.3v9.3h-9.3zM1171.81 93.97h9.3v9.3h-9.3zM1172.88 93.44h9.3v9.3h-9.3zM1173.95 92.92h9.3v9.3h-9.3zM1175.02 92.4h9.3v9.3h-9.3zM1176.09 91.88h9.3v9.3h-9.3zM1177.16 91.35h9.3v9.3h-9.3zM1178.23 90.83h9.3v9.3h-9.3zM1179.3 90.31h9.3v9.3h-9.3zM1180.37 89.79h9.3v9.3h-9.3zM1181.44 89.27h9.3v9.3h-9.3zM1182.51 88.75h9.3v9.3h-9.3zM1183.58 88.23h9.3v9.3h-9.3zM1184.65 87.71h9.3v9.3h-9.3zM1185.72 87.19h9.3v9.3h-9.3zM1186.79 86.67h9.3v9.3h-9.3zM1187.86 86.15h9.3v9.3h-9.3zM1188.92 85.63h9.3v9.3h-9.3zM1189.99 85.12h9.3v9.3h-9.3zM1191.06 84.6h9.3v9.3h-9.3zM1192.13 84.08h9.3v9.3h-9.3zM1193.2 83.56h9.3v9.3h-9.3zM1194.27 83.05h9.3v9.3h-9.3zM1195.34 82.53h9.3v9.3h-9.3zM1196.41 82.01h9.3v9.3h-9.3zM1197.48 81.5h9.3v9.3h-9.3zM1198.55 80.98h9.3v9.3h-9.3zM1199.62 80.47h9.3v9.3h-9.3zM1200.69 79.95h9.3v9.3h-9.3zM1201.76 79.44h9.3v9.3h-9.3zM1202.83 78.92h9.3v9.3h-9.3zM1203.9 78.41h9.3v9.3h-9.3zM1204.97 77.89h9.3v9.3h-9.3zM1206.04 77.38h9.3v9.3h-9.3zM1207.1 76.87h9.3v9.3h-9.3zM1208.17 76.35h9.3v9.3h-9.3zM1209.24 75.84h9.3v9.3h-9.3zM1210.31 75.33h9.3v9.3h-9.3zM1211.38 74.81h9.3v9.3h-9.3zM1212.45 74.3h9.3v9.3h-9.3zM1213.52 73.79h9.3v9.3h-9.3zM1214.59 73.28h9.3v9.3h-9.3zM1215.66 72.77h9.3v9.3h-9.3zM1216.73 72.26h9.3v9.3h-9.3zM1217.8 71.75h9.3v9.3h-9.3zM1218.87 71.24h9.3v9.3h-9.3zM1219.94 70.73h9.3v9.3h-9.3zM1221.01 70.22h9.3v9.3h-9.3zM1222.08 69.71h9.3v9.3h-9.3zM1223.15 69.2h9.3v9.3h-9.3zM1224.21 68.69h9.3v9.3h-9.3zM1225.28 68.18h9.3v9.3h-9.3zM1226.35 67.67h9.3v9.3h-9.3zM1227.42 67.16h9.3v9.3h-9.3zM1228.49 66.65h9.3v9.3h-9.3zM1229.56 66.15h9.3v9.3h-9.3zM1230.63 65.64h9.3v9.3h-9.3zM1231.7 65.13h9.3v9.3h-9.3zM1232.77 64.63h9.3v9.3h-9.3zM1233.84 64.12h9.3v9.3h-9.3zM1234.91 63.61h9.3v9.3h-9.3zM1235.98 63.11h9.3v9.3h-9.3zM1237.05 62.6h9.3v9.3h-9.3zM1238.12 62.1h9.3v9.3h-9.3zM1239.19 61.59h9.3v9.3h-9.3zM1240.26 61.09h9.3v9.3h-9.3zM1241.33 60.58h9.3v9.3h-9.3zM1242.39 60.08h9.3v9.3h-9.3zM1243.46 59.57h9.3v9.3h-9.3zM1244.53 59.07h9.3v9.3h-9.3zM1245.6 58.56h9.3v9.3h-9.3zM1246.67 58.06h9.3v9.3h-9.3zM1247.74 57.56h9.3v9.3h-9.3zM1248.81 57.06h9.3v9.3h-9.3zM1249.88 56.55h9.3v9.3h-9.3zM1250.95 56.05h9.3v9.3h-9.3z" fill="#0a6fc2"/>
<polyline points="720.9,356.09 721.97,355.03 723.04,353.97 724.11,352.93 725.18,351.9 726.25,350.87 727.32,349.86 728.39,348.85 729.46,347.85 730.52,346.86 731.59,345.88 732.66,344.91 733.73,343.94 734.8,342.98 735.87,342.02 736.94,341.08 738.01,340.13 739.08,339.2 740.15,338.27 741.22,337.35 742.29,336.43 743.36,335.51 744.43,334.61 745.5,333.7 746.57,332.81 747.64,331.91 748.7,331.03 749.77,330.14 750.84,329.26 751.91,328.39 752.98,327.52 754.05,326.65 755.12,325.79 756.19,324.93 757.26,324.08 758.33,323.23 759.4,322.38 760.47,321.54 761.54,320.7 762.61,319.86 763.68,319.03 764.75,318.2 765.81,317.37 766.88,316.55 767.95,315.73 769.02,314.91 770.09,314.1 771.16,313.29 772.23,312.48 773.3,311.67 774.37,310.87 775.44,310.07 776.51,309.27 777.58,308.48 778.65,307.69 779.72,306.9 780.79,306.11 781.86,305.33 782.93,304.55 783.99,303.77 785.06,302.99 786.13,302.22 787.2,301.45 788.27,300.68 789.34,299.91 790.41,299.14 791.48,298.38 792.55,297.62 793.62,296.86 794.69,296.1 795.76,295.35 796.83,294.59 797.9,293.84 798.97,293.09 800.04,292.35 801.1,291.6 802.17,290.86 803.24,290.12 804.31,289.38 805.38,288.64 806.45,287.9 807.52,287.17 808.59,286.44 809.66,285.71 810.73,284.98 811.8,284.25 812.87,283.53 813.94,282.8 815.01,282.08 816.08,281.36 817.15,280.64 818.22,279.92 819.28,279.21 820.35,278.49 821.42,277.78 822.49,277.07 823.56,276.36 824.63,275.65 825.7,274.94 826.77,274.24 827.84,273.53 828.91,272.83 829.98,272.13 831.05,271.43 832.12,270.73 833.19,270.03 834.26,269.33 835.33,268.64 836.4,267.95 837.46,267.25 838.53,266.56 839.6,265.87 840.67,265.18 841.74,264.5 842.81,263.81 843.88,263.13 844.95,262.44 846.02,261.76 847.09,261.08 848.16,260.4 849.23,259.72 850.3,259.04 851.37,258.37 852.44,257.69 853.51,257.02 854.58,256.35 855.64,255.67 856.71,255.0 857.78,254.33 858.85,253.66 859.92,253.0 860.99,252.33 862.06,251.66 863.13,251.0 864.2,250.34 865.27,249.67 866.34,249.01 867.41,248.35 868.48,247.69 869.55,247.03 870.62,246.38 871.69,245.72 872.75,245.07 873.82,244.41 874.89,243.76 875.96,243.11 877.03,242.45 878.1,241.8 879.17,241.15 880.24,240.5 881.31,239.86 882.38,239.21 883.45,238.56 884.52,237.92 885.59,237.27 886.66,236.63 887.73,235.99 888.8,235.35 889.87,234.71 890.93,234.07 892.0,233.43 893.07,232.79 894.14,232.15 895.21,231.51 896.28,230.88 897.35,230.24 898.42,229.61 899.49,228.98 900.56,228.34 901.63,227.71 902.7,227.08 903.77,226.45 904.84,225.82 905.91,225.19 906.98,224.57 908.04,223.94 909.11,223.31 910.18,222.69 911.25,222.06 912.32,221.44 913.39,220.82 914.46,220.19 915.53,219.57 916.6,218.95 917.67,218.33 918.74,217.71 919.81,217.09 920.88,216.47 921.95,215.86 923.02,215.24 924.09,214.62 925.16,214.01 926.22,213.4 927.29,212.78 928.36,212.17 929.43,211.56 930.5,210.94 931.57,210.33 932.64,209.72 933.71,209.11 934.78,208.5 935.85,207.9 936.92,207.29 937.99,206.68 939.06,206.07 940.13,205.47 941.2,204.86 942.27,204.26 943.34,203.66 944.4,203.05 945.47,202.45 946.54,201.85 947.61,201.25 948.68,200.65 949.75,200.05 950.82,199.45 951.89,198.85 952.96,198.25 954.03,197.65 955.1,197.06 956.17,196.46 957.24,195.86 958.31,195.27 959.38,194.67 960.45,194.08 961.52,193.49 962.58,192.89 963.65,192.3 964.72,191.71 965.79,191.12 966.86,190.53 967.93,189.94 969.0,189.35 970.07,188.76 971.14,188.17 972.21,187.59 973.28,187.0 974.35,186.41 975.42,185.83 976.49,185.24 977.56,184.66 978.63,184.07 979.69,183.49 980.76,182.9 981.83,182.32 982.9,181.74 983.97,181.16 985.04,180.58 986.11,180.0 987.18,179.42 988.25,178.84 989.32,178.26 990.39,177.68 991.46,177.1 992.53,176.53 993.6,175.95 994.67,175.37 995.74,174.8 996.81,174.22 997.87,173.65 998.94,173.07 1000.01,172.5 1001.08,171.93 1002.15,171.35 1003.22,170.78 1004.29,170.21 1005.36,169.64 1006.43,169.07 1007.5,168.5 1008.57,167.93 1009.64,167.36 1010.71,166.79 1011.78,166.22 1012.85,165.65 1013.92,165.09 1014.98,164.52 1016.05,163.95 1017.12,163.39 1018.19,162.82 1019.26,162.26 1020.33,161.69 1021.4,161.13 1022.47,160.56 1023.54,160.0 1024.61,159.44 1025.68,158.88 1026.75,158.31 1027.82,157.75 1028.89,157.19 1029.96,156.63 1031.03,156.07 1032.1,155.51 1033.16,154.95 1034.23,154.39 1035.3,153.84 1036.37,153.28 1037.44,152.72 1038.51,152.16 1039.58,151.61 1040.65,151.05 1041.72,150.5 1042.79,149.94 1043.86,149.39 1044.93,148.83 1046.0,148.28 1047.07,147.73 1048.14,147.17 1049.21,146.62 1050.28,146.07 1051.34,145.52 1052.41,144.97 1053.48,144.42 1054.55,143.87 1055.62,143.32 1056.69,142.77 1057.76,142.22 1058.83,141.67 1059.9,141.12 1060.97,140.57 1062.04,140.02 1063.11,139.48 1064.18,138.93 1065.25,138.39 1066.32,137.84 1067.39,137.29 1068.46,136.75 1069.52,136.2 1070.59,135.66 1071.66,135.12 1072.73,134.57 1073.8,134.03 1074.87,133.49 1075.94,132.95 1077.01,132.4 1078.08,131.86 1079.15,131.32 1080.22,130.78 1081.29,130.24 1082.36,129.7 1083.43,129.16 1084.5,128.62 1085.57,128.08 1086.63,127.55 1087.7,127.01 1088.77,126.47 1089.84,125.93 1090.91,125.4 1091.98,124.86 1093.05,124.32 1094.12,123.79 1095.19,123.25 1096.26,122.72 1097.33,122.18 1098.4,121.65 1099.47,121.12 1100.54,120.58 1101.61,120.05 1102.68,119.52 1103.75,118.99 1104.81,118.45 1105.88,117.92 1106.95,117.39 1108.02,116.86 1109.09,116.33 1110.16,115.8 1111.23,115.27 1112.3,114.74 1113.37,114.21 1114.44,113.68 1115.51,113.16 1116.58,112.63 1117.65,112.1 1118.72,111.57 1119.79,111.05 1120.86,110.52 1121.92,109.99 1122.99,109.47 1124.06,108.94 1125.13,108.42 1126.2,107.89 1127.27,107.37 1128.34,106.84 1129.41,106.32 1130.48,105.8 1131.55,105.27 1132.62,104.75 1133.69,104.23 1134.76,103.71 1135.83,103.19 1136.9,102.66 1137.97,102.14 1139.04,101.62 1140.1,101.1 1141.17,100.58 1142.24,100.06 1143.31,99.54 1144.38,99.03 1145.45,98.51 1146.52,97.99 1147.59,97.47 1148.66,96.95 1149.73,96.44 1150.8,95.92 1151.87,95.4 1152.94,94.89 1154.01,94.37 1155.08,93.85 1156.15,93.34 1157.22,92.82 1158.28,92.31 1159.35,91.8 1160.42,91.28 1161.49,90.77 1162.56,90.25 1163.63,89.74 1164.7,89.23 1165.77,88.72 1166.84,88.2 1167.91,87.69 1168.98,87.18 1170.05,86.67 1171.12,86.16 1172.19,85.65 1173.26,85.14 1174.33,84.63 1175.4,84.12 1176.46,83.61 1177.53,83.1 1178.6,82.59 1179.67,82.09 1180.74,81.58 1181.81,81.07 1182.88,80.56 1183.95,80.06 1185.02,79.55 1186.09,79.04 1187.16,78.54 1188.23,78.03 1189.3,77.53 1190.37,77.02 1191.44,76.52 1192.51,76.01 1193.57,75.51 1194.64,75.0 1195.71,74.5 1196.78,74.0 1197.85,73.49 1198.92,72.99 1199.99,72.49 1201.06,71.99 1202.13,71.48 1203.2,70.98 1204.27,70.48 1205.34,69.98 1206.41,69.48 1207.48,68.98 1208.55,68.48 1209.62,67.98 1210.69,67.48 1211.75,66.98 1212.82,66.48 1213.89,65.98 1214.96,65.48 1216.03,64.99 1217.1,64.49 1218.17,63.99 1219.24,63.49 1220.31,63.0 1221.38,62.5 1222.45,62.01 1223.52,61.51 1224.59,61.01 1225.66,60.52 1226.73,60.02 1227.8,59.53 1228.86,59.03 1229.93,58.54 1231.0,58.05 1232.07,57.55 1233.14,57.06 1234.21,56.57 1235.28,56.07 1236.35,55.58 1237.42,55.09 1238.49,54.6 1239.56,54.1 1240.63,53.61 1241.7,53.12 1242.77,52.63 1243.84,52.14 1244.91,51.65 1245.98,51.16 1247.04,50.67 1248.11,50.18 1249.18,49.69 1250.25,49.2 1251.32,48.71 1252.39,48.23 1253.46,47.74 1254.53,47.25 1255.6,46.76" fill="none" stroke="#ee1c2a" stroke-width="3.6" stroke-dasharray="0.01 7.537" stroke-dashoffset="-1.41" stroke-linecap="round"/>
<polyline points="720.9,317.56 721.97,316.8 723.04,316.05 724.11,315.29 725.18,314.54 726.25,313.79 727.32,313.03 728.39,312.28 729.46,311.53 730.52,310.79 731.59,310.04 732.66,309.29 733.73,308.55 734.8,307.8 735.87,307.06 736.94,306.32 738.01,305.58 739.08,304.84 740.15,304.1 741.22,303.37 742.29,302.63 743.36,301.9 744.43,301.16 745.5,300.43 746.57,299.7 747.64,298.97 748.7,298.24 749.77,297.52 750.84,296.79 751.91,296.06 752.98,295.34 754.05,294.62 755.12,293.89 756.19,293.17 757.26,292.45 758.33,291.73 759.4,291.02 760.47,290.3 761.54,289.58 762.61,288.87 763.68,288.15 764.75,287.44 765.81,286.73 766.88,286.02 767.95,285.31 769.02,284.6 770.09,283.89 771.16,283.19 772.23,282.48 773.3,281.78 774.37,281.07 775.44,280.37 776.51,279.67 777.58,278.97 778.65,278.27 779.72,277.57 780.79,276.87 781.86,276.18 782.93,275.48 783.99,274.79 785.06,274.09 786.13,273.4 787.2,272.71 788.27,272.02 789.34,271.33 790.41,270.64 791.48,269.95 792.55,269.26 793.62,268.58 794.69,267.89 795.76,267.21 796.83,266.52 797.9,265.84 798.97,265.16 800.04,264.48 801.1,263.8 802.17,263.12 803.24,262.44 804.31,261.76 805.38,261.09 806.45,260.41 807.52,259.74 808.59,259.06 809.66,258.39 810.73,257.72 811.8,257.05 812.87,256.38 813.94,255.71 815.01,255.04 816.08,254.37 817.15,253.71 818.22,253.04 819.28,252.38 820.35,251.71 821.42,251.05 822.49,250.39 823.56,249.73 824.63,249.07 825.7,248.41 826.77,247.75 827.84,247.09 828.91,246.43 829.98,245.78 831.05,245.12 832.12,244.47 833.19,243.81 834.26,243.16 835.33,242.51 836.4,241.85 837.46,241.2 838.53,240.55 839.6,239.9 840.67,239.26 841.74,238.61 842.81,237.96 843.88,237.31 844.95,236.67 846.02,236.02 847.09,235.38 848.16,234.74 849.23,234.1 850.3,233.45 851.37,232.81 852.44,232.17 853.51,231.53 854.58,230.9 855.64,230.26 856.71,229.62 857.78,228.99 858.85,228.35 859.92,227.72 860.99,227.08 862.06,226.45 863.13,225.82 864.2,225.18 865.27,224.55 866.34,223.92 867.41,223.29 868.48,222.66 869.55,222.04 870.62,221.41 871.69,220.78 872.75,220.16 873.82,219.53 874.89,218.91 875.96,218.28 877.03,217.66 878.1,217.04 879.17,216.42 880.24,215.79 881.31,215.17 882.38,214.55 883.45,213.94 884.52,213.32 885.59,212.7 886.66,212.08 887.73,211.47 888.8,210.85 889.87,210.24 890.93,209.62 892.0,209.01 893.07,208.4 894.14,207.78 895.21,207.17 896.28,206.56 897.35,205.95 898.42,205.34 899.49,204.73 900.56,204.12 901.63,203.52 902.7,202.91 903.77,202.3 904.84,201.7 905.91,201.09 906.98,200.49 908.04,199.88 909.11,199.28 910.18,198.68 911.25,198.08 912.32,197.47 913.39,196.87 914.46,196.27 915.53,195.67 916.6,195.08 917.67,194.48 918.74,193.88 919.81,193.28 920.88,192.69 921.95,192.09 923.02,191.5 924.09,190.9 925.16,190.31 926.22,189.71 927.29,189.12 928.36,188.53 929.43,187.94 930.5,187.35 931.57,186.76 932.64,186.17 933.71,185.58 934.78,184.99 935.85,184.4 936.92,183.81 937.99,183.23 939.06,182.64 940.13,182.05 941.2,181.47 942.27,180.89 943.34,180.3 944.4,179.72 945.47,179.13 946.54,178.55 947.61,177.97 948.68,177.39 949.75,176.81 950.82,176.23 951.89,175.65 952.96,175.07 954.03,174.49 955.1,173.91 956.17,173.34 957.24,172.76 958.31,172.18 959.38,171.61 960.45,171.03 961.52,170.46 962.58,169.89 963.65,169.31 964.72,168.74 965.79,168.17 966.86,167.59 967.93,167.02 969.0,166.45 970.07,165.88 971.14,165.31 972.21,164.74 973.28,164.17 974.35,163.61 975.42,163.04 976.49,162.47 977.56,161.91 978.63,161.34 979.69,160.77 980.76,160.21 981.83,159.64 982.9,159.08 983.97,158.52 985.04,157.95 986.11,157.39 987.18,156.83 988.25,156.27 989.32,155.71 990.39,155.15 991.46,154.58 992.53,154.03 993.6,153.47 994.67,152.91 995.74,152.35 996.81,151.79 997.87,151.23 998.94,150.68 1000.01,150.12 1001.08,149.57 1002.15,149.01 1003.22,148.46 1004.29,147.9 1005.36,147.35 1006.43,146.79 1007.5,146.24 1008.57,145.69 1009.64,145.14 1010.71,144.59 1011.78,144.04 1012.85,143.48 1013.92,142.93 1014.98,142.39 1016.05,141.84 1017.12,141.29 1018.19,140.74 1019.26,140.19 1020.33,139.64 1021.4,139.1 1022.47,138.55 1023.54,138.0 1024.61,137.46 1025.68,136.91 1026.75,136.37 1027.82,135.83 1028.89,135.28 1029.96,134.74 1031.03,134.2 1032.1,133.65 1033.16,133.11 1034.23,132.57 1035.3,132.03 1036.37,131.49 1037.44,130.95 1038.51,130.41 1039.58,129.87 1040.65,129.33 1041.72,128.79 1042.79,128.25 1043.86,127.72 1044.93,127.18 1046.0,126.64 1047.07,126.11 1048.14,125.57 1049.21,125.03 1050.28,124.5 1051.34,123.96 1052.41,123.43 1053.48,122.9 1054.55,122.36 1055.62,121.83 1056.69,121.3 1057.76,120.77 1058.83,120.23 1059.9,119.7 1060.97,119.17 1062.04,118.64 1063.11,118.11 1064.18,117.58 1065.25,117.05 1066.32,116.52 1067.39,115.99 1068.46,115.47 1069.52,114.94 1070.59,114.41 1071.66,113.88 1072.73,113.36 1073.8,112.83 1074.87,112.3 1075.94,111.78 1077.01,111.25 1078.08,110.73 1079.15,110.21 1080.22,109.68 1081.29,109.16 1082.36,108.63 1083.43,108.11 1084.5,107.59 1085.57,107.07 1086.63,106.55 1087.7,106.03 1088.77,105.5 1089.84,104.98 1090.91,104.46 1091.98,103.94 1093.05,103.42 1094.12,102.91 1095.19,102.39 1096.26,101.87 1097.33,101.35 1098.4,100.83 1099.47,100.32 1100.54,99.8 1101.61,99.28 1102.68,98.77 1103.75,98.25 1104.81,97.74 1105.88,97.22 1106.95,96.71 1108.02,96.19 1109.09,95.68 1110.16,95.16 1111.23,94.65 1112.3,94.14 1113.37,93.63 1114.44,93.11 1115.51,92.6 1116.58,92.09 1117.65,91.58 1118.72,91.07 1119.79,90.56 1120.86,90.05 1121.92,89.54 1122.99,89.03 1124.06,88.52 1125.13,88.01 1126.2,87.5 1127.27,87.0 1128.34,86.49 1129.41,85.98 1130.48,85.47 1131.55,84.97 1132.62,84.46 1133.69,83.95 1134.76,83.45 1135.83,82.94 1136.9,82.44 1137.97,81.93 1139.04,81.43 1140.1,80.93 1141.17,80.42 1142.24,79.92 1143.31,79.42 1144.38,78.91 1145.45,78.41 1146.52,77.91 1147.59,77.41 1148.66,76.91 1149.73,76.4 1150.8,75.9 1151.87,75.4 1152.94,74.9 1154.01,74.4 1155.08,73.9 1156.15,73.4 1157.22,72.91 1158.28,72.41 1159.35,71.91 1160.42,71.41 1161.49,70.91 1162.56,70.42 1163.63,69.92 1164.7,69.42 1165.77,68.93 1166.84,68.43 1167.91,67.93 1168.98,67.44 1170.05,66.94 1171.12,66.45 1172.19,65.95 1173.26,65.46 1174.33,64.96 1175.4,64.47 1176.46,63.98 1177.53,63.48 1178.6,62.99 1179.67,62.5 1180.74,62.01 1181.81,61.52 1182.88,61.02 1183.95,60.53 1185.02,60.04 1186.09,59.55 1187.16,59.06 1188.23,58.57 1189.3,58.08 1190.37,57.59 1191.44,57.1 1192.51,56.61 1193.57,56.12 1194.64,55.63 1195.71,55.15 1196.78,54.66 1197.85,54.17 1198.92,53.68 1199.99,53.2 1201.06,52.71 1202.13,52.22 1203.2,51.74 1204.27,51.25 1205.34,50.76 1206.41,50.28 1207.48,49.79 1208.55,49.31 1209.62,48.82 1210.69,48.34 1211.75,47.86 1212.82,47.37 1213.89,46.89 1214.96,46.41 1216.03,45.92 1217.1,45.44 1218.17,44.96 1219.24,44.48 1220.31,43.99 1221.38,43.51 1222.45,43.03 1223.52,42.55 1224.59,42.07 1225.66,41.59 1226.73,41.11 1227.8,40.63 1228.86,40.15 1229.93,39.67 1231.0,39.19 1232.07,38.71 1233.14,38.23 1234.21,37.75 1235.28,37.27 1236.35,36.8 1237.42,36.32 1238.49,35.84 1239.56,35.36 1240.63,34.89 1241.7,34.41 1242.77,33.93 1243.84,33.46 1244.91,32.98 1245.98,32.5 1247.04,32.03 1248.11,31.55 1249.18,31.08 1250.25,30.6 1251.32,30.13 1252.39,29.65 1253.46,29.18 1254.53,28.71 1255.6,28.23" fill="none" stroke="#000" stroke-width="3.6" stroke-dasharray="11 15.8 0.01 14.765" stroke-dashoffset="0.64" stroke-linecap="round"/>
<polyline points="720.9,394.43 721.97,392.56 723.04,390.78 724.11,389.08 725.18,387.44 726.25,385.86 727.32,384.33 728.39,382.84 729.46,381.4 730.52,379.99 731.59,378.61 732.66,377.26 733.73,375.94 734.8,374.65 735.87,373.37 736.94,372.12 738.01,370.89 739.08,369.68 740.15,368.49 741.22,367.31 742.29,366.15 743.36,365.0 744.43,363.87 745.5,362.75 746.57,361.64 747.64,360.55 748.7,359.46 749.77,358.39 750.84,357.33 751.91,356.28 752.98,355.24 754.05,354.2 755.12,353.18 756.19,352.17 757.26,351.16 758.33,350.16 759.4,349.17 760.47,348.19 761.54,347.21 762.61,346.24 763.68,345.28 764.75,344.32 765.81,343.37 766.88,342.43 767.95,341.49 769.02,340.56 770.09,339.63 771.16,338.71 772.23,337.79 773.3,336.88 774.37,335.98 775.44,335.08 776.51,334.18 777.58,333.29 778.65,332.4 779.72,331.52 780.79,330.64 781.86,329.77 782.93,328.9 783.99,328.04 785.06,327.17 786.13,326.32 787.2,325.46 788.27,324.61 789.34,323.77 790.41,322.92 791.48,322.08 792.55,321.25 793.62,320.41 794.69,319.58 795.76,318.76 796.83,317.93 797.9,317.11 798.97,316.3 800.04,315.48 801.1,314.67 802.17,313.86 803.24,313.06 804.31,312.26 805.38,311.46 806.45,310.66 807.52,309.86 808.59,309.07 809.66,308.28 810.73,307.5 811.8,306.71 812.87,305.93 813.94,305.15 815.01,304.37 816.08,303.6 817.15,302.82 818.22,302.05 819.28,301.28 820.35,300.52 821.42,299.75 822.49,298.99 823.56,298.23 824.63,297.48 825.7,296.72 826.77,295.97 827.84,295.21 828.91,294.46 829.98,293.72 831.05,292.97 832.12,292.23 833.19,291.49 834.26,290.74 835.33,290.01 836.4,289.27 837.46,288.53 838.53,287.8 839.6,287.07 840.67,286.34 841.74,285.61 842.81,284.89 843.88,284.16 844.95,283.44 846.02,282.72 847.09,282.0 848.16,281.28 849.23,280.56 850.3,279.84 851.37,279.13 852.44,278.42 853.51,277.71 854.58,277.0 855.64,276.29 856.71,275.58 857.78,274.88 858.85,274.17 859.92,273.47 860.99,272.77 862.06,272.07 863.13,271.37 864.2,270.68 865.27,269.98 866.34,269.29 867.41,268.59 868.48,267.9 869.55,267.21 870.62,266.52 871.69,265.83 872.75,265.15 873.82,264.46 874.89,263.78 875.96,263.09 877.03,262.41 878.1,261.73 879.17,261.05 880.24,260.37 881.31,259.7 882.38,259.02 883.45,258.34 884.52,257.67 885.59,257.0 886.66,256.33 887.73,255.65 888.8,254.99 889.87,254.32 890.93,253.65 892.0,252.98 893.07,252.32 894.14,251.65 895.21,250.99 896.28,250.33 897.35,249.67 898.42,249.01 899.49,248.35 900.56,247.69 901.63,247.03 902.7,246.37 903.77,245.72 904.84,245.06 905.91,244.41 906.98,243.76 908.04,243.11 909.11,242.46 910.18,241.81 911.25,241.16 912.32,240.51 913.39,239.86 914.46,239.22 915.53,238.57 916.6,237.93 917.67,237.28 918.74,236.64 919.81,236.0 920.88,235.36 921.95,234.72 923.02,234.08 924.09,233.44 925.16,232.8 926.22,232.16 927.29,231.53 928.36,230.89 929.43,230.26 930.5,229.62 931.57,228.99 932.64,228.36 933.71,227.73 934.78,227.1 935.85,226.47 936.92,225.84 937.99,225.21 939.06,224.58 940.13,223.96 941.2,223.33 942.27,222.71 943.34,222.08 944.4,221.46 945.47,220.84 946.54,220.21 947.61,219.59 948.68,218.97 949.75,218.35 950.82,217.73 951.89,217.11 952.96,216.5 954.03,215.88 955.1,215.26 956.17,214.65 957.24,214.03 958.31,213.42 959.38,212.8 960.45,212.19 961.52,211.58 962.58,210.96 963.65,210.35 964.72,209.74 965.79,209.13 966.86,208.52 967.93,207.92 969.0,207.31 970.07,206.7 971.14,206.09 972.21,205.49 973.28,204.88 974.35,204.28 975.42,203.67 976.49,203.07 977.56,202.47 978.63,201.87 979.69,201.26 980.76,200.66 981.83,200.06 982.9,199.46 983.97,198.86 985.04,198.27 986.11,197.67 987.18,197.07 988.25,196.47 989.32,195.88 990.39,195.28 991.46,194.69 992.53,194.09 993.6,193.5 994.67,192.9 995.74,192.31 996.81,191.72 997.87,191.13 998.94,190.54 1000.01,189.95 1001.08,189.36 1002.15,188.77 1003.22,188.18 1004.29,187.59 1005.36,187.0 1006.43,186.41 1007.5,185.83 1008.57,185.24 1009.64,184.65 1010.71,184.07 1011.78,183.49 1012.85,182.9 1013.92,182.32 1014.98,181.73 1016.05,181.15 1017.12,180.57 1018.19,179.99 1019.26,179.41 1020.33,178.83 1021.4,178.25 1022.47,177.67 1023.54,177.09 1024.61,176.51 1025.68,175.93 1026.75,175.35 1027.82,174.78 1028.89,174.2 1029.96,173.62 1031.03,173.05 1032.1,172.47 1033.16,171.9 1034.23,171.33 1035.3,170.75 1036.37,170.18 1037.44,169.61 1038.51,169.03 1039.58,168.46 1040.65,167.89 1041.72,167.32 1042.79,166.75 1043.86,166.18 1044.93,165.61 1046.0,165.04 1047.07,164.47 1048.14,163.9 1049.21,163.34 1050.28,162.77 1051.34,162.2 1052.41,161.64 1053.48,161.07 1054.55,160.51 1055.62,159.94 1056.69,159.38 1057.76,158.81 1058.83,158.25 1059.9,157.69 1060.97,157.12 1062.04,156.56 1063.11,156.0 1064.18,155.44 1065.25,154.88 1066.32,154.32 1067.39,153.76 1068.46,153.2 1069.52,152.64 1070.59,152.08 1071.66,151.52 1072.73,150.96 1073.8,150.4 1074.87,149.85 1075.94,149.29 1077.01,148.73 1078.08,148.18 1079.15,147.62 1080.22,147.07 1081.29,146.51 1082.36,145.96 1083.43,145.4 1084.5,144.85 1085.57,144.3 1086.63,143.74 1087.7,143.19 1088.77,142.64 1089.84,142.09 1090.91,141.54 1091.98,140.99 1093.05,140.44 1094.12,139.89 1095.19,139.34 1096.26,138.79 1097.33,138.24 1098.4,137.69 1099.47,137.14 1100.54,136.59 1101.61,136.05 1102.68,135.5 1103.75,134.95 1104.81,134.41 1105.88,133.86 1106.95,133.32 1108.02,132.77 1109.09,132.23 1110.16,131.68 1111.23,131.14 1112.3,130.6 1113.37,130.05 1114.44,129.51 1115.51,128.97 1116.58,128.42 1117.65,127.88 1118.72,127.34 1119.79,126.8 1120.86,126.26 1121.92,125.72 1122.99,125.18 1124.06,124.64 1125.13,124.1 1126.2,123.56 1127.27,123.02 1128.34,122.49 1129.41,121.95 1130.48,121.41 1131.55,120.87 1132.62,120.34 1133.69,119.8 1134.76,119.26 1135.83,118.73 1136.9,118.19 1137.97,117.66 1139.04,117.12 1140.1,116.59 1141.17,116.05 1142.24,115.52 1143.31,114.99 1144.38,114.45 1145.45,113.92 1146.52,113.39 1147.59,112.86 1148.66,112.33 1149.73,111.79 1150.8,111.26 1151.87,110.73 1152.94,110.2 1154.01,109.67 1155.08,109.14 1156.15,108.61 1157.22,108.08 1158.28,107.56 1159.35,107.03 1160.42,106.5 1161.49,105.97 1162.56,105.44 1163.63,104.92 1164.7,104.39 1165.77,103.86 1166.84,103.34 1167.91,102.81 1168.98,102.29 1170.05,101.76 1171.12,101.24 1172.19,100.71 1173.26,100.19 1174.33,99.66 1175.4,99.14 1176.46,98.62 1177.53,98.09 1178.6,97.57 1179.67,97.05 1180.74,96.53 1181.81,96.0 1182.88,95.48 1183.95,94.96 1185.02,94.44 1186.09,93.92 1187.16,93.4 1188.23,92.88 1189.3,92.36 1190.37,91.84 1191.44,91.32 1192.51,90.8 1193.57,90.28 1194.64,89.77 1195.71,89.25 1196.78,88.73 1197.85,88.21 1198.92,87.7 1199.99,87.18 1201.06,86.66 1202.13,86.15 1203.2,85.63 1204.27,85.12 1205.34,84.6 1206.41,84.09 1207.48,83.57 1208.55,83.06 1209.62,82.54 1210.69,82.03 1211.75,81.52 1212.82,81.0 1213.89,80.49 1214.96,79.98 1216.03,79.46 1217.1,78.95 1218.17,78.44 1219.24,77.93 1220.31,77.42 1221.38,76.91 1222.45,76.4 1223.52,75.89 1224.59,75.38 1225.66,74.87 1226.73,74.36 1227.8,73.85 1228.86,73.34 1229.93,72.83 1231.0,72.32 1232.07,71.81 1233.14,71.3 1234.21,70.8 1235.28,70.29 1236.35,69.78 1237.42,69.28 1238.49,68.77 1239.56,68.26 1240.63,67.76 1241.7,67.25 1242.77,66.75 1243.84,66.24 1244.91,65.74 1245.98,65.23 1247.04,64.73 1248.11,64.22 1249.18,63.72 1250.25,63.21 1251.32,62.71 1252.39,62.21 1253.46,61.71 1254.53,61.2 1255.6,60.7" fill="none" stroke="#ed7d31" stroke-width="3.2" stroke-dasharray="6.8 7.73" stroke-dashoffset="-2.37" stroke-linecap="round"/>
</svg>
</body></html>
